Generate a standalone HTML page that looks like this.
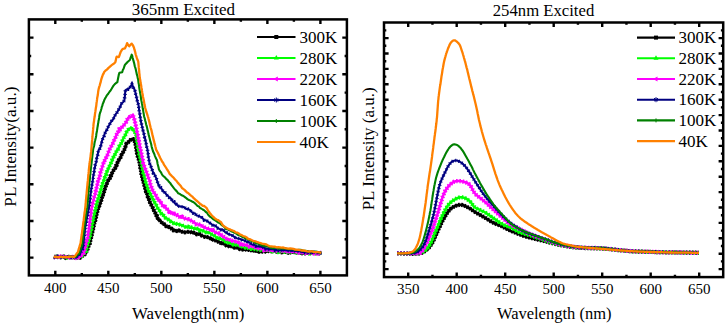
<!DOCTYPE html>
<html><head><meta charset="utf-8"><style>
html,body{margin:0;padding:0;background:#fff;width:725px;height:324px;overflow:hidden}
svg{display:block}
text{font-family:"Liberation Serif",serif;fill:#000}
</style></head><body>
<svg width="725" height="324" viewBox="0 0 725 324">
<rect x="28.90" y="19.40" width="318.00" height="256.00" fill="none" stroke="#000" stroke-width="2.50"/><path d="M55.30 275.40V270.80M55.30 19.40V24.00M108.32 275.40V270.80M108.32 19.40V24.00M161.34 275.40V270.80M161.34 19.40V24.00M214.36 275.40V270.80M214.36 19.40V24.00M267.38 275.40V270.80M267.38 19.40V24.00M320.40 275.40V270.80M320.40 19.40V24.00M81.81 275.40V273.10M81.81 19.40V21.70M134.83 275.40V273.10M134.83 19.40V21.70M187.85 275.40V273.10M187.85 19.40V21.70M240.87 275.40V273.10M240.87 19.40V21.70M293.89 275.40V273.10M293.89 19.40V21.70M28.90 37.60H33.50M346.90 37.60H342.30M28.90 74.27H33.50M346.90 74.27H342.30M28.90 110.94H33.50M346.90 110.94H342.30M28.90 147.61H33.50M346.90 147.61H342.30M28.90 184.28H33.50M346.90 184.28H342.30M28.90 220.95H33.50M346.90 220.95H342.30M28.90 257.62H33.50M346.90 257.62H342.30M28.90 55.94H31.20M346.90 55.94H344.60M28.90 92.61H31.20M346.90 92.61H344.60M28.90 129.28H31.20M346.90 129.28H344.60M28.90 165.94H31.20M346.90 165.94H344.60M28.90 202.62H31.20M346.90 202.62H344.60M28.90 239.28H31.20M346.90 239.28H344.60" stroke="#000" stroke-width="2.40" fill="none"/>
<text x="55.30" y="292.6" text-anchor="middle" font-size="15" font-family="Liberation Serif, serif">400</text>
<text x="108.32" y="292.6" text-anchor="middle" font-size="15" font-family="Liberation Serif, serif">450</text>
<text x="161.34" y="292.6" text-anchor="middle" font-size="15" font-family="Liberation Serif, serif">500</text>
<text x="214.36" y="292.6" text-anchor="middle" font-size="15" font-family="Liberation Serif, serif">550</text>
<text x="267.38" y="292.6" text-anchor="middle" font-size="15" font-family="Liberation Serif, serif">600</text>
<text x="320.40" y="292.6" text-anchor="middle" font-size="15" font-family="Liberation Serif, serif">650</text>
<text x="188.3" y="318.6" text-anchor="middle" font-size="16.8" font-family="Liberation Serif, serif">Wavelength(nm)</text>
<text x="183.4" y="15.2" text-anchor="middle" font-size="17" font-family="Liberation Serif, serif">365nm Excited</text>
<text transform="translate(15.8,146.6) rotate(-90)" text-anchor="middle" font-size="17.2" font-family="Liberation Serif, serif">PL Intensity(a.u.)</text>
<path d="M54.0 256.6 L55.6 257.1 L57.2 256.9 L58.9 257.2 L60.5 257.3 L62.1 256.5 L63.8 256.5 L65.4 257.7 L67.0 256.9 L68.6 256.9 L70.2 258.0 L71.9 257.3 L73.5 257.8 L75.1 257.4 L76.8 257.6 L78.4 257.0 L80.0 257.7 L81.5 256.9 L83.0 255.3 L84.5 254.5 L86.0 253.2 L86.6 250.7 L87.3 250.0 L87.9 248.1 L88.5 246.1 L89.2 244.0 L89.8 243.5 L90.2 241.3 L90.5 240.1 L90.9 238.7 L91.3 236.8 L91.7 235.5 L92.0 233.1 L92.4 232.0 L92.8 229.9 L93.2 228.9 L93.6 227.2 L94.0 224.4 L94.4 222.8 L94.8 221.3 L95.2 220.7 L95.7 218.2 L96.1 216.8 L96.5 214.7 L96.9 213.3 L97.3 211.5 L97.7 209.8 L98.2 208.6 L98.7 207.1 L99.3 206.0 L99.8 204.2 L100.3 203.0 L100.8 201.4 L101.4 200.0 L101.9 198.1 L102.4 195.8 L102.9 195.2 L103.5 193.8 L104.0 192.1 L104.5 190.1 L105.0 188.7 L105.6 186.4 L106.1 185.7 L106.8 183.9 L107.5 182.0 L108.3 180.3 L109.0 179.9 L109.7 178.7 L110.4 176.0 L111.2 175.5 L111.9 173.5 L112.6 171.7 L113.4 170.5 L114.2 169.7 L115.1 168.4 L115.9 165.8 L116.7 165.2 L117.5 162.7 L118.2 162.0 L119.0 159.7 L119.8 158.8 L120.6 157.3 L121.4 155.0 L122.2 154.1 L123.5 151.3 L124.7 149.1 L125.2 148.3 L125.6 145.9 L126.0 144.6 L126.5 143.4 L128.1 142.4 L129.6 140.5 L131.4 139.2 L133.3 139.1 L134.2 140.2 L135.2 142.9 L135.5 144.4 L135.7 145.3 L136.0 147.0 L136.2 148.7 L136.5 150.4 L136.7 151.9 L137.0 153.5 L137.5 155.3 L138.0 157.5 L138.5 158.6 L139.0 160.2 L139.5 162.3 L139.8 163.2 L140.0 164.9 L140.2 167.5 L140.5 168.4 L140.8 170.1 L141.0 170.9 L141.2 173.1 L141.5 174.9 L142.0 175.8 L142.4 178.3 L142.9 180.1 L143.3 180.9 L143.8 183.4 L144.2 184.9 L144.7 186.9 L145.1 188.1 L145.6 190.3 L146.1 191.9 L146.7 192.5 L147.2 194.1 L147.7 196.6 L148.2 198.6 L148.8 199.2 L149.3 201.0 L150.1 202.8 L150.8 203.9 L151.6 205.6 L152.4 207.0 L153.1 208.7 L153.9 210.5 L154.7 211.7 L155.4 213.3 L156.2 215.4 L157.0 215.9 L157.7 218.2 L158.5 219.9 L159.7 220.4 L161.0 221.4 L162.2 223.3 L163.4 223.6 L164.7 224.6 L165.9 226.0 L167.4 227.1 L168.9 227.0 L170.3 228.1 L171.8 228.8 L173.3 230.3 L175.2 230.1 L177.0 231.1 L178.9 230.5 L180.7 231.1 L182.6 231.9 L184.5 232.4 L186.3 232.0 L188.2 231.8 L190.0 231.8 L191.9 232.5 L193.5 232.5 L195.1 233.7 L196.8 234.2 L198.4 233.7 L200.0 234.2 L201.7 235.6 L203.3 236.0 L205.0 236.9 L206.7 237.0 L208.3 237.3 L210.0 238.2 L211.8 239.7 L213.7 239.7 L215.6 240.5 L217.4 241.4 L218.9 242.0 L220.4 242.6 L221.8 243.9 L223.3 243.5 L224.8 243.9 L226.5 245.6 L228.1 246.0 L229.8 246.5 L231.4 246.2 L233.0 247.3 L234.7 247.7 L236.4 247.2 L238.1 248.4 L239.9 249.1 L241.6 249.3 L243.3 249.6 L245.1 249.5 L246.9 249.8 L248.7 249.9 L250.5 249.9 L252.3 250.9 L254.1 250.7 L255.9 251.6 L257.6 250.5 L259.3 251.7 L261.0 251.4 L262.7 251.7 L264.5 251.6 L266.2 251.6 L267.9 251.2 L269.6 250.3 L271.3 251.3 L273.0 250.7 L274.7 251.0 L276.4 251.6 L278.1 251.5 L279.9 251.5 L281.6 252.4 L283.3 252.0 L285.0 251.8 L286.7 251.7 L288.4 252.7 L290.1 252.2 L291.8 252.7 L293.5 252.2 L295.2 252.0 L296.8 252.6 L298.5 253.1 L300.2 252.2 L301.9 253.2 L303.6 253.4 L305.3 253.4 L307.0 253.5 L308.8 252.4 L310.6 253.3 L312.4 253.7 L314.1 252.6 L315.9 253.0 L317.7 253.1 L319.5 253.5 L321.3 253.4" fill="none" stroke="#000000" stroke-width="2.80" stroke-linejoin="round"/><path d="M54.0 256.6 L55.6 257.1 L57.2 256.9 L58.9 257.2 L60.5 257.3 L62.1 256.5 L63.8 256.5 L65.4 257.7 L67.0 256.9 L68.6 256.9 L70.2 258.0 L71.9 257.3 L73.5 257.8 L75.1 257.4 L76.8 257.6 L78.4 257.0 L80.0 257.7 L81.5 256.9 L83.0 255.3 L84.5 254.5 L86.0 253.2 L86.6 250.7 L87.3 250.0 L87.9 248.1 L88.5 246.1 L89.2 244.0 L89.8 243.5 L90.2 241.3 L90.5 240.1 L90.9 238.7 L91.3 236.8 L91.7 235.5 L92.0 233.1 L92.4 232.0 L92.8 229.9 L93.2 228.9 L93.6 227.2 L94.0 224.4 L94.4 222.8 L94.8 221.3 L95.2 220.7 L95.7 218.2 L96.1 216.8 L96.5 214.7 L96.9 213.3 L97.3 211.5 L97.7 209.8 L98.2 208.6 L98.7 207.1 L99.3 206.0 L99.8 204.2 L100.3 203.0 L100.8 201.4 L101.4 200.0 L101.9 198.1 L102.4 195.8 L102.9 195.2 L103.5 193.8 L104.0 192.1 L104.5 190.1 L105.0 188.7 L105.6 186.4 L106.1 185.7 L106.8 183.9 L107.5 182.0 L108.3 180.3 L109.0 179.9 L109.7 178.7 L110.4 176.0 L111.2 175.5 L111.9 173.5 L112.6 171.7 L113.4 170.5 L114.2 169.7 L115.1 168.4 L115.9 165.8 L116.7 165.2 L117.5 162.7 L118.2 162.0 L119.0 159.7 L119.8 158.8 L120.6 157.3 L121.4 155.0 L122.2 154.1 L123.5 151.3 L124.7 149.1 L125.2 148.3 L125.6 145.9 L126.0 144.6 L126.5 143.4 L128.1 142.4 L129.6 140.5 L131.4 139.2 L133.3 139.1 L134.2 140.2 L135.2 142.9 L135.5 144.4 L135.7 145.3 L136.0 147.0 L136.2 148.7 L136.5 150.4 L136.7 151.9 L137.0 153.5 L137.5 155.3 L138.0 157.5 L138.5 158.6 L139.0 160.2 L139.5 162.3 L139.8 163.2 L140.0 164.9 L140.2 167.5 L140.5 168.4 L140.8 170.1 L141.0 170.9 L141.2 173.1 L141.5 174.9 L142.0 175.8 L142.4 178.3 L142.9 180.1 L143.3 180.9 L143.8 183.4 L144.2 184.9 L144.7 186.9 L145.1 188.1 L145.6 190.3 L146.1 191.9 L146.7 192.5 L147.2 194.1 L147.7 196.6 L148.2 198.6 L148.8 199.2 L149.3 201.0 L150.1 202.8 L150.8 203.9 L151.6 205.6 L152.4 207.0 L153.1 208.7 L153.9 210.5 L154.7 211.7 L155.4 213.3 L156.2 215.4 L157.0 215.9 L157.7 218.2 L158.5 219.9 L159.7 220.4 L161.0 221.4 L162.2 223.3 L163.4 223.6 L164.7 224.6 L165.9 226.0 L167.4 227.1 L168.9 227.0 L170.3 228.1 L171.8 228.8 L173.3 230.3 L175.2 230.1 L177.0 231.1 L178.9 230.5 L180.7 231.1 L182.6 231.9 L184.5 232.4 L186.3 232.0 L188.2 231.8 L190.0 231.8 L191.9 232.5 L193.5 232.5 L195.1 233.7 L196.8 234.2 L198.4 233.7 L200.0 234.2 L201.7 235.6 L203.3 236.0 L205.0 236.9 L206.7 237.0 L208.3 237.3 L210.0 238.2 L211.8 239.7 L213.7 239.7 L215.6 240.5 L217.4 241.4 L218.9 242.0 L220.4 242.6 L221.8 243.9 L223.3 243.5 L224.8 243.9 L226.5 245.6 L228.1 246.0 L229.8 246.5 L231.4 246.2 L233.0 247.3 L234.7 247.7 L236.4 247.2 L238.1 248.4 L239.9 249.1 L241.6 249.3 L243.3 249.6 L245.1 249.5 L246.9 249.8 L248.7 249.9 L250.5 249.9 L252.3 250.9 L254.1 250.7 L255.9 251.6 L257.6 250.5 L259.3 251.7 L261.0 251.4 L262.7 251.7 L264.5 251.6 L266.2 251.6 L267.9 251.2 L269.6 250.3 L271.3 251.3 L273.0 250.7 L274.7 251.0 L276.4 251.6 L278.1 251.5 L279.9 251.5 L281.6 252.4 L283.3 252.0 L285.0 251.8 L286.7 251.7 L288.4 252.7 L290.1 252.2 L291.8 252.7 L293.5 252.2 L295.2 252.0 L296.8 252.6 L298.5 253.1 L300.2 252.2 L301.9 253.2 L303.6 253.4 L305.3 253.4 L307.0 253.5 L308.8 252.4 L310.6 253.3 L312.4 253.7 L314.1 252.6 L315.9 253.0 L317.7 253.1 L319.5 253.5 L321.3 253.4" fill="none" stroke="#000000" stroke-width="4.20" stroke-dasharray="1.6 1.4"/>
<path d="M54.0 257.0 L55.6 257.4 L57.2 256.4 L58.8 256.5 L60.4 256.6 L62.0 256.6 L63.6 256.6 L65.2 257.9 L66.8 257.8 L68.4 256.7 L70.0 257.3 L71.6 257.1 L73.2 257.1 L74.8 257.2 L76.4 257.7 L78.0 257.6 L80.0 256.8 L82.0 256.1 L83.0 254.9 L84.0 253.2 L85.0 252.5 L86.0 251.3 L86.4 249.2 L86.9 247.1 L87.3 245.5 L87.8 244.2 L88.2 242.8 L88.7 241.4 L89.1 239.2 L89.6 238.1 L90.0 236.2 L90.3 234.3 L90.6 232.5 L91.0 231.1 L91.3 229.7 L91.6 227.7 L91.9 226.5 L92.2 224.5 L92.5 222.6 L92.9 221.3 L93.2 219.9 L93.5 217.4 L93.9 216.1 L94.2 214.4 L94.6 213.3 L95.0 211.6 L95.4 209.1 L95.8 208.1 L96.1 206.2 L96.5 203.7 L97.0 202.3 L97.5 200.1 L98.0 199.5 L98.5 197.6 L99.0 196.2 L99.5 194.4 L100.0 192.6 L100.5 191.0 L101.1 189.1 L101.6 186.8 L102.2 185.8 L102.7 183.4 L103.3 181.9 L103.9 181.1 L104.4 178.4 L105.0 176.8 L105.5 175.2 L106.1 174.6 L106.7 172.1 L107.4 170.4 L108.0 170.0 L108.6 167.5 L109.3 167.0 L109.9 165.2 L110.7 163.7 L111.5 162.0 L112.3 159.7 L113.0 158.5 L113.8 156.0 L114.5 155.5 L115.3 153.7 L116.0 152.5 L116.9 150.2 L117.8 149.6 L118.6 148.4 L119.5 145.7 L120.4 144.6 L121.2 143.3 L122.0 142.2 L122.7 139.8 L123.5 138.2 L124.2 136.7 L125.0 135.7 L125.8 134.3 L126.5 132.3 L127.8 130.4 L129.0 128.6 L132.1 127.9 L133.0 129.4 L133.9 130.3 L134.9 132.2 L135.8 134.3 L136.1 135.1 L136.3 137.2 L136.6 138.0 L136.8 140.3 L137.1 142.0 L137.3 143.5 L137.6 144.9 L137.8 146.5 L138.1 148.3 L138.3 150.3 L138.7 150.8 L139.1 152.3 L139.4 154.8 L139.8 156.6 L140.2 157.7 L140.6 159.1 L140.9 161.1 L141.3 162.0 L141.6 163.8 L142.0 165.5 L142.3 167.8 L142.6 169.2 L143.0 170.9 L143.3 173.3 L143.8 175.3 L144.2 176.0 L144.7 178.3 L145.1 179.5 L145.6 181.8 L146.0 183.1 L146.6 184.4 L147.2 186.1 L147.7 187.6 L148.3 190.0 L149.1 191.4 L149.9 192.7 L150.7 194.6 L151.5 196.1 L152.3 198.3 L153.1 199.0 L153.9 201.8 L154.7 202.5 L155.5 204.0 L156.3 205.2 L157.2 207.1 L158.0 208.5 L158.8 209.5 L159.6 210.8 L160.4 212.5 L161.6 213.9 L162.9 214.5 L164.1 216.2 L165.3 217.8 L166.6 218.3 L167.8 219.2 L169.3 220.0 L170.9 221.5 L172.4 222.2 L173.9 223.4 L175.5 224.0 L177.0 223.9 L178.6 224.3 L180.2 224.7 L181.8 225.0 L183.3 226.1 L184.9 226.7 L186.5 227.2 L188.1 226.7 L189.8 227.9 L191.6 227.5 L193.3 228.1 L195.0 228.9 L196.5 228.5 L198.1 228.9 L199.6 230.4 L201.2 230.1 L202.7 230.7 L204.5 231.7 L206.3 232.4 L208.2 232.2 L210.0 233.3 L211.6 234.3 L213.1 235.3 L214.6 235.9 L216.2 237.3 L217.7 238.5 L219.2 238.3 L220.8 239.1 L222.3 239.2 L223.8 240.0 L225.3 241.2 L226.8 241.0 L228.3 242.7 L229.8 243.4 L231.5 242.7 L233.2 244.4 L235.0 244.1 L236.7 245.1 L238.4 245.6 L240.1 245.4 L241.8 246.4 L243.6 246.9 L245.3 247.6 L247.0 247.4 L248.8 248.4 L250.6 249.0 L252.3 249.0 L254.1 249.1 L255.9 248.9 L257.6 249.5 L259.3 249.5 L261.0 250.2 L262.7 250.3 L264.5 250.3 L266.2 249.9 L267.9 250.7 L269.6 250.8 L271.3 250.4 L273.0 251.5 L274.7 251.3 L276.4 250.6 L278.1 251.9 L279.9 250.9 L281.6 251.3 L283.3 252.0 L285.0 251.9 L286.7 252.0 L288.4 252.2 L290.1 252.0 L291.8 251.8 L293.5 251.7 L295.2 251.7 L296.8 252.6 L298.5 252.8 L300.2 252.6 L301.9 252.9 L303.6 252.4 L305.3 252.4 L307.0 252.6 L308.8 253.4 L310.6 252.3 L312.4 253.0 L314.1 252.7 L315.9 253.5 L317.7 253.0 L319.5 253.0 L321.3 253.2" fill="none" stroke="#00ff00" stroke-width="2.50" stroke-linejoin="round"/><path d="M54.0 257.0 L55.6 257.4 L57.2 256.4 L58.8 256.5 L60.4 256.6 L62.0 256.6 L63.6 256.6 L65.2 257.9 L66.8 257.8 L68.4 256.7 L70.0 257.3 L71.6 257.1 L73.2 257.1 L74.8 257.2 L76.4 257.7 L78.0 257.6 L80.0 256.8 L82.0 256.1 L83.0 254.9 L84.0 253.2 L85.0 252.5 L86.0 251.3 L86.4 249.2 L86.9 247.1 L87.3 245.5 L87.8 244.2 L88.2 242.8 L88.7 241.4 L89.1 239.2 L89.6 238.1 L90.0 236.2 L90.3 234.3 L90.6 232.5 L91.0 231.1 L91.3 229.7 L91.6 227.7 L91.9 226.5 L92.2 224.5 L92.5 222.6 L92.9 221.3 L93.2 219.9 L93.5 217.4 L93.9 216.1 L94.2 214.4 L94.6 213.3 L95.0 211.6 L95.4 209.1 L95.8 208.1 L96.1 206.2 L96.5 203.7 L97.0 202.3 L97.5 200.1 L98.0 199.5 L98.5 197.6 L99.0 196.2 L99.5 194.4 L100.0 192.6 L100.5 191.0 L101.1 189.1 L101.6 186.8 L102.2 185.8 L102.7 183.4 L103.3 181.9 L103.9 181.1 L104.4 178.4 L105.0 176.8 L105.5 175.2 L106.1 174.6 L106.7 172.1 L107.4 170.4 L108.0 170.0 L108.6 167.5 L109.3 167.0 L109.9 165.2 L110.7 163.7 L111.5 162.0 L112.3 159.7 L113.0 158.5 L113.8 156.0 L114.5 155.5 L115.3 153.7 L116.0 152.5 L116.9 150.2 L117.8 149.6 L118.6 148.4 L119.5 145.7 L120.4 144.6 L121.2 143.3 L122.0 142.2 L122.7 139.8 L123.5 138.2 L124.2 136.7 L125.0 135.7 L125.8 134.3 L126.5 132.3 L127.8 130.4 L129.0 128.6 L132.1 127.9 L133.0 129.4 L133.9 130.3 L134.9 132.2 L135.8 134.3 L136.1 135.1 L136.3 137.2 L136.6 138.0 L136.8 140.3 L137.1 142.0 L137.3 143.5 L137.6 144.9 L137.8 146.5 L138.1 148.3 L138.3 150.3 L138.7 150.8 L139.1 152.3 L139.4 154.8 L139.8 156.6 L140.2 157.7 L140.6 159.1 L140.9 161.1 L141.3 162.0 L141.6 163.8 L142.0 165.5 L142.3 167.8 L142.6 169.2 L143.0 170.9 L143.3 173.3 L143.8 175.3 L144.2 176.0 L144.7 178.3 L145.1 179.5 L145.6 181.8 L146.0 183.1 L146.6 184.4 L147.2 186.1 L147.7 187.6 L148.3 190.0 L149.1 191.4 L149.9 192.7 L150.7 194.6 L151.5 196.1 L152.3 198.3 L153.1 199.0 L153.9 201.8 L154.7 202.5 L155.5 204.0 L156.3 205.2 L157.2 207.1 L158.0 208.5 L158.8 209.5 L159.6 210.8 L160.4 212.5 L161.6 213.9 L162.9 214.5 L164.1 216.2 L165.3 217.8 L166.6 218.3 L167.8 219.2 L169.3 220.0 L170.9 221.5 L172.4 222.2 L173.9 223.4 L175.5 224.0 L177.0 223.9 L178.6 224.3 L180.2 224.7 L181.8 225.0 L183.3 226.1 L184.9 226.7 L186.5 227.2 L188.1 226.7 L189.8 227.9 L191.6 227.5 L193.3 228.1 L195.0 228.9 L196.5 228.5 L198.1 228.9 L199.6 230.4 L201.2 230.1 L202.7 230.7 L204.5 231.7 L206.3 232.4 L208.2 232.2 L210.0 233.3 L211.6 234.3 L213.1 235.3 L214.6 235.9 L216.2 237.3 L217.7 238.5 L219.2 238.3 L220.8 239.1 L222.3 239.2 L223.8 240.0 L225.3 241.2 L226.8 241.0 L228.3 242.7 L229.8 243.4 L231.5 242.7 L233.2 244.4 L235.0 244.1 L236.7 245.1 L238.4 245.6 L240.1 245.4 L241.8 246.4 L243.6 246.9 L245.3 247.6 L247.0 247.4 L248.8 248.4 L250.6 249.0 L252.3 249.0 L254.1 249.1 L255.9 248.9 L257.6 249.5 L259.3 249.5 L261.0 250.2 L262.7 250.3 L264.5 250.3 L266.2 249.9 L267.9 250.7 L269.6 250.8 L271.3 250.4 L273.0 251.5 L274.7 251.3 L276.4 250.6 L278.1 251.9 L279.9 250.9 L281.6 251.3 L283.3 252.0 L285.0 251.9 L286.7 252.0 L288.4 252.2 L290.1 252.0 L291.8 251.8 L293.5 251.7 L295.2 251.7 L296.8 252.6 L298.5 252.8 L300.2 252.6 L301.9 252.9 L303.6 252.4 L305.3 252.4 L307.0 252.6 L308.8 253.4 L310.6 252.3 L312.4 253.0 L314.1 252.7 L315.9 253.5 L317.7 253.0 L319.5 253.0 L321.3 253.2" fill="none" stroke="#00ff00" stroke-width="4.20" stroke-dasharray="1.4 1.8"/>
<path d="M54.0 257.1 L55.7 257.5 L57.4 256.8 L59.1 257.7 L60.8 256.5 L62.5 256.8 L64.2 256.6 L65.8 256.6 L67.5 257.8 L69.2 257.7 L70.9 256.9 L72.6 256.9 L74.3 257.3 L76.0 257.9 L78.0 257.5 L80.0 256.9 L81.2 255.5 L82.4 253.6 L83.6 252.8 L84.0 250.8 L84.5 249.6 L84.9 248.0 L85.3 245.7 L85.8 244.1 L86.2 243.3 L86.6 240.3 L87.0 239.9 L87.5 238.3 L87.9 236.7 L88.1 234.2 L88.3 232.8 L88.5 231.3 L88.8 229.7 L89.0 228.6 L89.2 226.5 L89.4 224.3 L89.6 223.6 L89.8 221.3 L90.0 219.9 L90.2 218.5 L90.5 215.7 L90.7 215.3 L90.9 213.5 L91.1 211.6 L91.3 210.0 L91.7 208.3 L92.0 206.3 L92.4 205.2 L92.7 202.8 L93.1 201.9 L93.5 200.5 L93.9 198.5 L94.3 197.0 L94.7 196.0 L95.2 194.2 L95.6 191.4 L96.0 190.8 L96.4 188.9 L96.8 186.3 L97.2 185.1 L97.6 183.3 L98.0 181.4 L98.4 180.5 L98.9 179.5 L99.3 176.9 L99.7 176.1 L100.1 174.2 L100.5 171.6 L101.0 171.1 L101.6 169.0 L102.1 167.8 L102.6 165.7 L103.2 164.1 L103.7 161.7 L104.4 161.0 L105.2 159.7 L105.9 158.1 L106.7 156.0 L107.4 155.0 L108.1 153.1 L108.9 151.0 L109.6 149.4 L110.4 148.0 L111.1 146.7 L111.8 144.9 L112.6 143.8 L113.3 142.4 L114.1 140.4 L114.8 138.5 L115.5 137.4 L116.2 135.4 L116.9 134.2 L117.7 133.2 L118.4 131.2 L119.1 129.4 L120.3 129.3 L121.6 127.8 L122.8 126.0 L124.1 124.8 L125.2 123.4 L126.2 121.9 L127.2 119.7 L128.3 117.7 L129.9 116.9 L131.4 116.8 L133.0 114.6 L133.4 116.8 L133.9 118.0 L134.4 119.6 L134.8 121.2 L135.2 123.2 L135.5 124.4 L135.8 125.8 L136.2 127.5 L136.6 129.2 L136.9 131.4 L137.2 132.3 L137.6 133.8 L137.9 136.2 L138.2 137.7 L138.5 139.9 L138.8 140.5 L139.2 142.7 L139.5 144.3 L139.8 145.4 L140.1 148.5 L140.4 149.0 L140.7 150.4 L141.1 152.6 L141.4 153.7 L141.8 156.1 L142.1 157.3 L142.4 158.5 L142.8 160.1 L143.1 162.8 L143.7 163.8 L144.3 166.3 L144.9 167.6 L145.5 170.1 L146.1 170.8 L146.7 172.5 L147.4 174.3 L148.0 176.9 L148.7 178.4 L149.3 179.8 L149.8 181.0 L150.2 183.6 L150.7 185.8 L151.1 186.8 L151.6 187.5 L152.0 189.2 L152.9 190.8 L153.9 192.4 L154.8 193.7 L155.8 195.2 L156.7 197.6 L157.8 199.4 L158.8 199.6 L159.9 202.1 L160.9 202.7 L162.0 204.5 L163.0 206.0 L164.1 207.4 L165.3 207.0 L166.6 208.5 L167.8 210.1 L169.0 211.7 L170.3 211.4 L171.5 212.8 L173.0 214.3 L174.6 213.8 L176.1 214.8 L177.6 215.4 L179.2 216.6 L180.7 217.6 L182.2 216.8 L183.8 218.2 L185.3 218.6 L186.9 219.2 L188.4 219.2 L190.0 220.3 L191.7 220.6 L193.3 221.9 L195.0 222.8 L196.5 224.3 L198.1 224.4 L199.6 224.7 L201.2 225.2 L202.7 226.7 L204.2 227.2 L205.6 228.0 L207.1 228.2 L208.5 229.1 L210.0 229.2 L211.6 230.8 L213.1 230.3 L214.6 231.6 L216.2 232.7 L217.7 233.5 L219.2 233.5 L220.8 234.7 L222.3 236.5 L223.8 237.0 L225.3 238.1 L226.8 238.8 L228.3 238.9 L229.8 240.3 L231.5 240.7 L233.2 240.7 L235.0 241.4 L236.7 241.5 L238.4 242.6 L240.1 244.1 L241.8 243.4 L243.6 244.8 L245.3 244.7 L247.0 245.2 L248.8 246.5 L250.6 246.2 L252.3 246.3 L254.1 246.9 L255.9 248.0 L257.8 248.3 L259.8 247.8 L261.7 248.6 L263.6 250.1 L265.5 249.2 L267.5 249.9 L269.4 249.9 L271.3 250.7 L273.0 250.6 L274.7 251.0 L276.4 250.7 L278.1 250.3 L279.9 250.3 L281.6 250.3 L283.3 251.6 L285.0 250.6 L286.7 250.5 L288.4 252.1 L290.1 251.0 L291.8 252.2 L293.5 251.0 L295.2 251.7 L296.8 251.5 L298.5 252.5 L300.2 252.3 L301.9 252.4 L303.6 252.7 L305.3 253.0 L307.0 252.3 L308.8 252.8 L310.6 252.6 L312.4 252.1 L314.1 253.4 L315.9 253.1 L317.7 253.5 L319.5 252.6 L321.3 253.3" fill="none" stroke="#ff00ff" stroke-width="2.50" stroke-linejoin="round"/><path d="M54.0 257.1 L55.7 257.5 L57.4 256.8 L59.1 257.7 L60.8 256.5 L62.5 256.8 L64.2 256.6 L65.8 256.6 L67.5 257.8 L69.2 257.7 L70.9 256.9 L72.6 256.9 L74.3 257.3 L76.0 257.9 L78.0 257.5 L80.0 256.9 L81.2 255.5 L82.4 253.6 L83.6 252.8 L84.0 250.8 L84.5 249.6 L84.9 248.0 L85.3 245.7 L85.8 244.1 L86.2 243.3 L86.6 240.3 L87.0 239.9 L87.5 238.3 L87.9 236.7 L88.1 234.2 L88.3 232.8 L88.5 231.3 L88.8 229.7 L89.0 228.6 L89.2 226.5 L89.4 224.3 L89.6 223.6 L89.8 221.3 L90.0 219.9 L90.2 218.5 L90.5 215.7 L90.7 215.3 L90.9 213.5 L91.1 211.6 L91.3 210.0 L91.7 208.3 L92.0 206.3 L92.4 205.2 L92.7 202.8 L93.1 201.9 L93.5 200.5 L93.9 198.5 L94.3 197.0 L94.7 196.0 L95.2 194.2 L95.6 191.4 L96.0 190.8 L96.4 188.9 L96.8 186.3 L97.2 185.1 L97.6 183.3 L98.0 181.4 L98.4 180.5 L98.9 179.5 L99.3 176.9 L99.7 176.1 L100.1 174.2 L100.5 171.6 L101.0 171.1 L101.6 169.0 L102.1 167.8 L102.6 165.7 L103.2 164.1 L103.7 161.7 L104.4 161.0 L105.2 159.7 L105.9 158.1 L106.7 156.0 L107.4 155.0 L108.1 153.1 L108.9 151.0 L109.6 149.4 L110.4 148.0 L111.1 146.7 L111.8 144.9 L112.6 143.8 L113.3 142.4 L114.1 140.4 L114.8 138.5 L115.5 137.4 L116.2 135.4 L116.9 134.2 L117.7 133.2 L118.4 131.2 L119.1 129.4 L120.3 129.3 L121.6 127.8 L122.8 126.0 L124.1 124.8 L125.2 123.4 L126.2 121.9 L127.2 119.7 L128.3 117.7 L129.9 116.9 L131.4 116.8 L133.0 114.6 L133.4 116.8 L133.9 118.0 L134.4 119.6 L134.8 121.2 L135.2 123.2 L135.5 124.4 L135.8 125.8 L136.2 127.5 L136.6 129.2 L136.9 131.4 L137.2 132.3 L137.6 133.8 L137.9 136.2 L138.2 137.7 L138.5 139.9 L138.8 140.5 L139.2 142.7 L139.5 144.3 L139.8 145.4 L140.1 148.5 L140.4 149.0 L140.7 150.4 L141.1 152.6 L141.4 153.7 L141.8 156.1 L142.1 157.3 L142.4 158.5 L142.8 160.1 L143.1 162.8 L143.7 163.8 L144.3 166.3 L144.9 167.6 L145.5 170.1 L146.1 170.8 L146.7 172.5 L147.4 174.3 L148.0 176.9 L148.7 178.4 L149.3 179.8 L149.8 181.0 L150.2 183.6 L150.7 185.8 L151.1 186.8 L151.6 187.5 L152.0 189.2 L152.9 190.8 L153.9 192.4 L154.8 193.7 L155.8 195.2 L156.7 197.6 L157.8 199.4 L158.8 199.6 L159.9 202.1 L160.9 202.7 L162.0 204.5 L163.0 206.0 L164.1 207.4 L165.3 207.0 L166.6 208.5 L167.8 210.1 L169.0 211.7 L170.3 211.4 L171.5 212.8 L173.0 214.3 L174.6 213.8 L176.1 214.8 L177.6 215.4 L179.2 216.6 L180.7 217.6 L182.2 216.8 L183.8 218.2 L185.3 218.6 L186.9 219.2 L188.4 219.2 L190.0 220.3 L191.7 220.6 L193.3 221.9 L195.0 222.8 L196.5 224.3 L198.1 224.4 L199.6 224.7 L201.2 225.2 L202.7 226.7 L204.2 227.2 L205.6 228.0 L207.1 228.2 L208.5 229.1 L210.0 229.2 L211.6 230.8 L213.1 230.3 L214.6 231.6 L216.2 232.7 L217.7 233.5 L219.2 233.5 L220.8 234.7 L222.3 236.5 L223.8 237.0 L225.3 238.1 L226.8 238.8 L228.3 238.9 L229.8 240.3 L231.5 240.7 L233.2 240.7 L235.0 241.4 L236.7 241.5 L238.4 242.6 L240.1 244.1 L241.8 243.4 L243.6 244.8 L245.3 244.7 L247.0 245.2 L248.8 246.5 L250.6 246.2 L252.3 246.3 L254.1 246.9 L255.9 248.0 L257.8 248.3 L259.8 247.8 L261.7 248.6 L263.6 250.1 L265.5 249.2 L267.5 249.9 L269.4 249.9 L271.3 250.7 L273.0 250.6 L274.7 251.0 L276.4 250.7 L278.1 250.3 L279.9 250.3 L281.6 250.3 L283.3 251.6 L285.0 250.6 L286.7 250.5 L288.4 252.1 L290.1 251.0 L291.8 252.2 L293.5 251.0 L295.2 251.7 L296.8 251.5 L298.5 252.5 L300.2 252.3 L301.9 252.4 L303.6 252.7 L305.3 253.0 L307.0 252.3 L308.8 252.8 L310.6 252.6 L312.4 252.1 L314.1 253.4 L315.9 253.1 L317.7 253.5 L319.5 252.6 L321.3 253.3" fill="none" stroke="#ff00ff" stroke-width="4.40" stroke-dasharray="1.4 1.8"/>
<path d="M54.0 256.9 L55.7 257.3 L57.4 256.4 L59.1 256.8 L60.8 257.0 L62.5 256.4 L64.2 257.1 L65.8 257.3 L67.5 256.9 L69.2 257.2 L70.9 257.1 L72.6 256.6 L74.3 256.8 L76.0 257.7 L78.0 255.5 L80.0 254.4 L80.6 252.4 L81.2 251.1 L81.8 249.5 L82.4 249.1 L83.0 247.3 L83.2 245.9 L83.4 244.5 L83.6 242.3 L83.7 241.1 L83.9 239.0 L84.1 237.2 L84.3 236.3 L84.5 234.6 L84.7 233.1 L84.8 230.8 L85.0 229.6 L85.2 227.5 L85.4 226.7 L85.7 224.9 L86.1 222.3 L86.4 221.5 L86.7 218.8 L87.0 217.0 L87.4 216.2 L87.7 213.9 L88.0 212.5 L88.3 211.0 L88.7 208.4 L89.0 207.7 L89.2 205.4 L89.4 203.9 L89.7 202.1 L89.9 200.9 L90.1 199.2 L90.3 196.9 L90.5 194.9 L90.7 193.5 L90.9 192.0 L91.2 189.8 L91.4 188.2 L91.6 187.4 L91.9 185.6 L92.1 184.3 L92.4 182.6 L92.7 180.8 L93.0 178.4 L93.2 176.4 L93.5 175.0 L93.8 173.5 L94.1 171.9 L94.3 170.2 L94.6 168.3 L95.0 167.3 L95.3 164.8 L95.7 163.4 L96.1 162.3 L96.5 160.5 L96.8 158.1 L97.2 156.4 L97.6 155.5 L98.0 152.7 L98.3 151.2 L98.7 150.0 L99.7 148.7 L100.6 146.7 L101.0 144.9 L101.4 143.3 L101.7 142.4 L102.1 140.3 L102.5 139.3 L103.2 137.5 L104.0 136.3 L104.7 133.5 L105.5 132.2 L106.2 130.5 L107.0 129.6 L107.8 127.9 L108.5 125.9 L109.3 125.1 L110.2 123.0 L111.1 121.8 L112.0 120.3 L113.0 119.6 L113.9 117.6 L114.8 115.9 L115.7 114.2 L116.6 113.1 L117.5 111.7 L118.3 110.1 L119.2 108.8 L120.1 107.1 L121.0 104.6 L122.1 102.8 L123.3 102.0 L124.4 100.4 L124.6 98.2 L124.8 96.8 L125.0 94.6 L125.2 92.4 L125.4 90.4 L126.8 89.3 L128.1 89.3 L129.4 88.1 L130.6 86.5 L131.9 84.4 L132.8 86.2 L133.7 88.1 L134.6 89.5 L135.0 90.9 L135.4 92.3 L135.7 94.1 L136.1 95.3 L136.5 97.0 L137.0 99.6 L137.5 101.9 L138.0 103.2 L138.5 104.9 L138.7 106.4 L138.9 108.1 L139.1 110.2 L139.4 111.3 L139.6 113.6 L139.8 114.0 L140.0 115.8 L140.3 117.7 L140.6 119.1 L140.9 121.3 L141.3 122.9 L141.6 124.6 L141.9 125.8 L142.2 126.5 L142.6 128.9 L143.0 130.4 L143.4 131.9 L143.8 133.2 L144.2 135.4 L144.6 137.3 L145.0 137.7 L145.3 140.1 L145.7 141.3 L146.0 143.1 L146.4 145.2 L146.7 146.9 L147.1 148.0 L147.4 149.0 L147.7 151.8 L147.9 152.5 L148.2 154.5 L148.4 156.9 L148.7 158.0 L148.9 159.7 L149.4 162.2 L149.8 163.7 L150.3 164.4 L150.8 166.0 L151.2 167.4 L151.7 168.8 L152.5 170.6 L153.3 173.3 L154.2 173.8 L155.0 175.6 L155.8 177.3 L156.4 178.7 L157.1 180.8 L157.7 182.7 L158.3 184.4 L159.0 185.6 L159.6 187.4 L160.8 187.7 L162.1 189.5 L163.3 191.8 L164.6 192.0 L165.8 193.7 L167.0 195.1 L168.1 196.0 L169.2 197.5 L170.4 198.0 L171.6 199.5 L172.9 201.7 L174.1 201.8 L175.4 204.1 L176.6 204.3 L178.1 206.1 L179.7 206.2 L181.2 206.8 L182.8 206.7 L184.3 207.2 L186.2 209.0 L188.1 209.1 L190.0 210.0 L191.7 212.0 L193.3 213.3 L195.0 213.3 L196.5 215.5 L198.1 215.8 L199.6 216.5 L201.2 217.0 L202.7 218.3 L204.2 220.2 L205.6 220.2 L207.1 221.0 L208.5 222.1 L210.0 223.1 L211.6 224.2 L213.1 225.7 L214.6 225.3 L216.2 226.3 L217.7 228.1 L219.2 228.9 L220.8 229.7 L222.3 229.4 L223.8 230.6 L225.3 232.4 L226.8 232.8 L228.3 234.1 L229.8 234.5 L231.5 234.9 L233.2 236.1 L235.0 237.4 L236.7 238.2 L238.4 238.6 L240.1 239.0 L241.8 239.8 L243.6 240.2 L245.3 240.9 L247.0 242.0 L248.5 241.7 L250.0 243.0 L251.4 244.1 L252.9 244.7 L254.4 244.4 L255.9 246.1 L257.4 246.4 L259.0 246.0 L260.5 246.6 L262.1 246.9 L263.6 247.2 L265.5 248.9 L267.5 248.5 L269.4 249.5 L271.3 248.9 L273.0 248.8 L274.7 250.1 L276.4 250.1 L278.1 250.5 L279.9 250.2 L281.6 250.0 L283.3 250.5 L285.0 249.6 L286.7 250.4 L288.4 250.4 L290.1 250.1 L291.8 250.9 L293.5 250.6 L295.2 251.0 L296.8 251.0 L298.5 251.1 L300.2 251.2 L301.9 251.7 L303.6 252.4 L305.3 252.5 L307.0 252.5 L308.8 252.6 L310.6 252.0 L312.4 253.0 L314.1 252.2 L315.9 252.1 L317.7 252.8 L319.5 253.2 L321.3 252.8" fill="none" stroke="#000080" stroke-width="2.10" stroke-linejoin="round"/><path d="M54.0 256.9 L55.7 257.3 L57.4 256.4 L59.1 256.8 L60.8 257.0 L62.5 256.4 L64.2 257.1 L65.8 257.3 L67.5 256.9 L69.2 257.2 L70.9 257.1 L72.6 256.6 L74.3 256.8 L76.0 257.7 L78.0 255.5 L80.0 254.4 L80.6 252.4 L81.2 251.1 L81.8 249.5 L82.4 249.1 L83.0 247.3 L83.2 245.9 L83.4 244.5 L83.6 242.3 L83.7 241.1 L83.9 239.0 L84.1 237.2 L84.3 236.3 L84.5 234.6 L84.7 233.1 L84.8 230.8 L85.0 229.6 L85.2 227.5 L85.4 226.7 L85.7 224.9 L86.1 222.3 L86.4 221.5 L86.7 218.8 L87.0 217.0 L87.4 216.2 L87.7 213.9 L88.0 212.5 L88.3 211.0 L88.7 208.4 L89.0 207.7 L89.2 205.4 L89.4 203.9 L89.7 202.1 L89.9 200.9 L90.1 199.2 L90.3 196.9 L90.5 194.9 L90.7 193.5 L90.9 192.0 L91.2 189.8 L91.4 188.2 L91.6 187.4 L91.9 185.6 L92.1 184.3 L92.4 182.6 L92.7 180.8 L93.0 178.4 L93.2 176.4 L93.5 175.0 L93.8 173.5 L94.1 171.9 L94.3 170.2 L94.6 168.3 L95.0 167.3 L95.3 164.8 L95.7 163.4 L96.1 162.3 L96.5 160.5 L96.8 158.1 L97.2 156.4 L97.6 155.5 L98.0 152.7 L98.3 151.2 L98.7 150.0 L99.7 148.7 L100.6 146.7 L101.0 144.9 L101.4 143.3 L101.7 142.4 L102.1 140.3 L102.5 139.3 L103.2 137.5 L104.0 136.3 L104.7 133.5 L105.5 132.2 L106.2 130.5 L107.0 129.6 L107.8 127.9 L108.5 125.9 L109.3 125.1 L110.2 123.0 L111.1 121.8 L112.0 120.3 L113.0 119.6 L113.9 117.6 L114.8 115.9 L115.7 114.2 L116.6 113.1 L117.5 111.7 L118.3 110.1 L119.2 108.8 L120.1 107.1 L121.0 104.6 L122.1 102.8 L123.3 102.0 L124.4 100.4 L124.6 98.2 L124.8 96.8 L125.0 94.6 L125.2 92.4 L125.4 90.4 L126.8 89.3 L128.1 89.3 L129.4 88.1 L130.6 86.5 L131.9 84.4 L132.8 86.2 L133.7 88.1 L134.6 89.5 L135.0 90.9 L135.4 92.3 L135.7 94.1 L136.1 95.3 L136.5 97.0 L137.0 99.6 L137.5 101.9 L138.0 103.2 L138.5 104.9 L138.7 106.4 L138.9 108.1 L139.1 110.2 L139.4 111.3 L139.6 113.6 L139.8 114.0 L140.0 115.8 L140.3 117.7 L140.6 119.1 L140.9 121.3 L141.3 122.9 L141.6 124.6 L141.9 125.8 L142.2 126.5 L142.6 128.9 L143.0 130.4 L143.4 131.9 L143.8 133.2 L144.2 135.4 L144.6 137.3 L145.0 137.7 L145.3 140.1 L145.7 141.3 L146.0 143.1 L146.4 145.2 L146.7 146.9 L147.1 148.0 L147.4 149.0 L147.7 151.8 L147.9 152.5 L148.2 154.5 L148.4 156.9 L148.7 158.0 L148.9 159.7 L149.4 162.2 L149.8 163.7 L150.3 164.4 L150.8 166.0 L151.2 167.4 L151.7 168.8 L152.5 170.6 L153.3 173.3 L154.2 173.8 L155.0 175.6 L155.8 177.3 L156.4 178.7 L157.1 180.8 L157.7 182.7 L158.3 184.4 L159.0 185.6 L159.6 187.4 L160.8 187.7 L162.1 189.5 L163.3 191.8 L164.6 192.0 L165.8 193.7 L167.0 195.1 L168.1 196.0 L169.2 197.5 L170.4 198.0 L171.6 199.5 L172.9 201.7 L174.1 201.8 L175.4 204.1 L176.6 204.3 L178.1 206.1 L179.7 206.2 L181.2 206.8 L182.8 206.7 L184.3 207.2 L186.2 209.0 L188.1 209.1 L190.0 210.0 L191.7 212.0 L193.3 213.3 L195.0 213.3 L196.5 215.5 L198.1 215.8 L199.6 216.5 L201.2 217.0 L202.7 218.3 L204.2 220.2 L205.6 220.2 L207.1 221.0 L208.5 222.1 L210.0 223.1 L211.6 224.2 L213.1 225.7 L214.6 225.3 L216.2 226.3 L217.7 228.1 L219.2 228.9 L220.8 229.7 L222.3 229.4 L223.8 230.6 L225.3 232.4 L226.8 232.8 L228.3 234.1 L229.8 234.5 L231.5 234.9 L233.2 236.1 L235.0 237.4 L236.7 238.2 L238.4 238.6 L240.1 239.0 L241.8 239.8 L243.6 240.2 L245.3 240.9 L247.0 242.0 L248.5 241.7 L250.0 243.0 L251.4 244.1 L252.9 244.7 L254.4 244.4 L255.9 246.1 L257.4 246.4 L259.0 246.0 L260.5 246.6 L262.1 246.9 L263.6 247.2 L265.5 248.9 L267.5 248.5 L269.4 249.5 L271.3 248.9 L273.0 248.8 L274.7 250.1 L276.4 250.1 L278.1 250.5 L279.9 250.2 L281.6 250.0 L283.3 250.5 L285.0 249.6 L286.7 250.4 L288.4 250.4 L290.1 250.1 L291.8 250.9 L293.5 250.6 L295.2 251.0 L296.8 251.0 L298.5 251.1 L300.2 251.2 L301.9 251.7 L303.6 252.4 L305.3 252.5 L307.0 252.5 L308.8 252.6 L310.6 252.0 L312.4 253.0 L314.1 252.2 L315.9 252.1 L317.7 252.8 L319.5 253.2 L321.3 252.8" fill="none" stroke="#000080" stroke-width="3.60" stroke-dasharray="1 2.4"/>
<path d="M54.0 257.1 L55.6 256.8 L57.2 257.4 L58.8 257.0 L60.5 257.0 L62.1 257.0 L63.7 257.3 L65.3 257.4 L66.9 257.0 L68.5 257.0 L70.2 257.1 L71.8 256.7 L73.4 256.9 L75.0 257.3 L76.3 256.1 L77.7 254.3 L79.0 253.8 L79.6 251.7 L80.2 250.5 L80.8 248.3 L81.4 246.5 L82.0 245.0 L82.2 243.6 L82.4 241.5 L82.7 240.1 L82.9 238.3 L83.1 236.3 L83.3 234.5 L83.5 232.9 L83.7 231.1 L84.0 229.4 L84.2 227.8 L84.4 226.3 L84.7 224.4 L84.9 222.3 L85.2 220.7 L85.4 219.1 L85.7 217.6 L85.9 215.6 L86.2 213.8 L86.4 212.3 L86.7 210.6 L86.9 208.7 L87.2 207.4 L87.4 206.0 L87.5 204.0 L87.7 202.5 L87.8 200.9 L88.0 199.2 L88.1 197.5 L88.2 195.5 L88.4 193.9 L88.5 191.8 L88.7 190.7 L88.8 188.6 L89.0 187.0 L89.2 185.6 L89.3 183.5 L89.5 181.7 L89.7 180.5 L89.9 178.7 L90.0 176.6 L90.2 174.8 L90.4 173.4 L90.6 171.5 L90.7 170.4 L90.9 168.2 L91.1 166.6 L91.3 165.0 L91.5 163.5 L91.7 161.7 L91.9 160.2 L92.1 158.5 L92.3 156.7 L92.5 154.7 L92.7 153.7 L92.9 151.8 L93.1 149.7 L93.4 148.3 L93.8 147.0 L94.2 145.5 L94.5 143.2 L94.8 141.5 L95.2 140.2 L95.6 138.6 L95.9 137.3 L96.2 135.7 L96.4 133.7 L96.7 132.2 L97.0 130.7 L97.2 129.4 L97.5 127.2 L97.8 125.8 L98.0 124.0 L98.3 122.8 L98.5 120.8 L98.8 119.9 L99.1 118.0 L99.3 116.4 L99.6 114.5 L100.0 113.0 L100.5 111.7 L100.9 110.5 L101.4 108.7 L101.8 106.9 L102.3 105.9 L102.7 104.1 L103.5 102.3 L104.2 100.3 L105.0 98.6 L105.8 97.3 L106.8 95.4 L107.8 94.3 L108.7 93.0 L109.7 91.5 L110.7 90.3 L111.6 88.8 L112.5 87.2 L113.5 85.6 L114.8 84.1 L116.1 83.0 L117.4 82.2 L117.7 80.2 L118.1 78.2 L118.4 76.8 L118.9 74.3 L119.4 72.8 L122.2 72.2 L122.9 69.8 L123.6 68.7 L124.3 66.5 L125.0 64.7 L126.4 63.2 L127.8 61.7 L129.9 60.0 L130.5 58.0 L131.1 56.5 L131.7 54.7 L132.2 55.7 L132.6 57.7 L133.1 59.4 L133.5 60.9 L134.0 62.6 L134.4 64.3 L134.8 66.3 L135.3 67.7 L135.7 69.1 L136.1 70.9 L136.5 72.8 L136.9 74.7 L137.4 76.2 L137.8 78.4 L138.2 79.8 L138.4 81.8 L138.6 83.3 L138.9 84.6 L139.1 86.7 L139.3 88.0 L139.6 89.8 L139.9 91.6 L140.2 93.3 L140.5 94.8 L140.8 96.2 L141.0 98.5 L141.3 100.2 L141.6 101.6 L141.9 103.4 L142.2 104.8 L142.5 106.9 L142.7 108.3 L143.0 109.5 L143.3 111.6 L143.6 113.3 L143.8 114.4 L144.1 116.5 L144.5 117.7 L144.9 119.0 L145.3 121.0 L145.7 122.3 L146.1 124.2 L146.5 125.7 L146.9 126.9 L147.3 128.8 L147.7 130.7 L148.1 131.9 L148.4 133.6 L148.8 135.4 L149.2 136.7 L149.6 138.3 L150.0 140.0 L150.4 141.7 L150.8 142.8 L151.2 144.3 L151.6 146.4 L152.0 147.9 L152.4 149.2 L153.0 151.2 L153.7 152.7 L154.3 154.0 L154.9 155.8 L155.5 157.2 L156.2 158.7 L156.8 159.8 L157.2 161.5 L157.6 163.9 L158.1 165.8 L158.5 167.3 L158.9 169.3 L159.8 170.9 L160.8 172.1 L161.8 174.0 L162.7 175.5 L163.9 176.5 L165.2 177.6 L166.4 179.2 L167.7 180.2 L168.9 181.8 L170.1 182.9 L171.2 184.6 L172.3 186.0 L173.5 187.7 L174.7 189.2 L175.8 190.2 L176.9 191.5 L178.1 193.2 L179.7 193.9 L181.2 195.0 L182.8 195.7 L184.3 196.6 L185.9 197.8 L187.4 199.1 L189.0 200.0 L190.5 200.6 L192.1 201.5 L193.6 202.2 L194.9 203.3 L196.1 204.4 L197.4 205.9 L198.7 206.2 L199.9 207.9 L201.2 208.5 L202.7 209.5 L204.3 210.4 L205.8 212.0 L206.9 212.7 L207.9 214.3 L208.9 215.6 L210.0 216.7 L211.6 217.7 L213.3 219.3 L214.9 220.1 L216.4 221.2 L218.0 222.4 L219.6 222.9 L221.1 224.5 L222.3 225.6 L223.6 226.2 L224.8 227.5 L226.0 229.0 L227.4 229.2 L228.9 230.2 L230.3 230.5 L231.8 231.6 L233.2 232.0 L234.7 232.9 L236.2 233.5 L237.7 234.7 L239.1 235.3 L240.6 235.9 L242.1 236.7 L243.7 237.3 L245.3 238.3 L246.8 238.6 L248.4 239.6 L250.0 240.4 L251.5 240.9 L252.9 241.4 L254.4 242.2 L255.9 243.3 L257.4 243.4 L259.0 244.3 L260.5 244.6 L262.1 245.4 L263.6 245.8 L265.1 246.1 L266.7 246.3 L268.2 246.5 L269.8 247.4 L271.3 248.0 L273.0 248.2 L274.7 247.8 L276.4 247.8 L278.1 248.6 L279.9 248.5 L281.6 248.4 L283.3 248.7 L285.0 248.3 L286.7 248.8 L288.4 249.1 L290.1 249.2 L291.8 249.1 L293.5 249.2 L295.2 249.8 L296.8 250.2 L298.5 249.8 L300.2 249.9 L301.9 250.1 L303.6 250.9 L305.3 250.7 L307.0 251.0 L308.8 251.6 L310.6 251.5 L312.4 251.4 L314.1 252.0 L315.9 251.6 L317.7 252.0 L319.5 252.6 L321.3 252.3" fill="none" stroke="#008000" stroke-width="2.10" stroke-linejoin="round"/>
<path d="M53.7 256.7 L55.4 257.0 L57.1 256.8 L58.8 257.3 L60.5 256.7 L62.2 257.1 L63.9 256.8 L65.5 257.1 L67.2 256.8 L68.9 257.0 L70.6 256.7 L72.3 256.6 L74.0 256.8 L75.3 255.6 L76.5 253.8 L77.8 252.3 L78.3 250.9 L78.7 249.1 L79.2 247.6 L79.7 246.2 L80.1 244.6 L80.6 243.1 L80.8 241.2 L81.1 239.3 L81.3 237.6 L81.5 236.1 L81.8 234.3 L82.0 232.8 L82.2 230.9 L82.4 229.6 L82.7 227.8 L82.9 226.1 L83.1 224.5 L83.3 222.6 L83.6 220.9 L83.8 219.1 L84.0 217.2 L84.2 216.1 L84.4 214.2 L84.6 212.2 L84.9 211.1 L85.1 209.1 L85.3 207.5 L85.5 205.7 L85.6 203.7 L85.8 202.6 L85.9 200.4 L86.1 198.8 L86.2 197.5 L86.4 195.2 L86.6 193.8 L86.7 192.1 L86.9 190.2 L87.0 189.0 L87.2 186.9 L87.4 185.0 L87.5 183.6 L87.7 181.6 L87.9 180.4 L88.0 178.8 L88.2 177.2 L88.3 174.9 L88.5 173.7 L88.7 171.7 L88.8 170.2 L89.0 168.4 L89.2 166.7 L89.4 164.9 L89.6 163.5 L89.8 161.5 L90.0 160.4 L90.3 158.1 L90.5 157.1 L90.7 154.8 L90.9 153.1 L91.1 151.9 L91.3 150.0 L91.4 148.5 L91.6 146.6 L91.7 145.0 L91.9 143.0 L92.0 141.7 L92.2 139.9 L92.3 138.5 L92.5 136.2 L92.6 134.5 L92.8 133.3 L92.9 131.7 L93.1 129.7 L93.2 128.2 L93.4 126.4 L93.5 124.6 L93.7 123.0 L94.0 121.5 L94.2 119.4 L94.4 118.0 L94.7 116.6 L94.9 114.7 L95.1 113.2 L95.4 111.4 L95.6 109.8 L95.8 108.3 L96.1 106.8 L96.3 105.3 L96.5 103.3 L96.8 101.4 L97.0 99.9 L97.2 98.0 L97.5 96.5 L97.8 95.1 L98.0 93.4 L98.2 91.5 L98.5 89.8 L98.9 88.1 L99.3 86.6 L99.8 85.3 L100.2 83.5 L100.6 82.4 L101.0 80.5 L101.5 78.6 L102.1 77.0 L102.8 74.9 L103.5 73.7 L104.2 72.0 L105.6 70.5 L106.9 69.6 L108.3 68.1 L109.7 66.9 L111.1 65.7 L112.5 64.5 L113.9 63.6 L115.3 62.2 L115.8 60.4 L116.2 58.1 L116.7 56.7 L118.8 57.2 L119.5 55.3 L120.1 53.5 L120.8 51.7 L121.8 50.1 L122.9 48.8 L125.0 48.3 L125.7 46.7 L126.4 45.2 L127.1 43.1 L128.1 45.0 L129.2 46.3 L130.4 44.8 L131.7 43.6 L132.8 45.1 L134.0 47.7 L134.4 49.4 L134.8 50.6 L135.3 52.5 L135.7 54.5 L136.1 55.7 L136.8 57.9 L137.5 59.8 L138.2 61.4 L138.4 62.8 L138.5 64.5 L138.7 66.6 L138.8 67.9 L139.0 69.5 L139.2 71.2 L139.3 73.2 L139.5 74.3 L139.6 75.8 L139.8 78.1 L140.1 79.3 L140.4 81.0 L140.6 83.1 L140.9 84.3 L141.2 85.8 L141.5 88.0 L141.8 89.2 L142.0 90.9 L142.3 93.0 L142.6 94.2 L142.9 96.4 L143.2 97.7 L143.6 99.4 L143.9 101.0 L144.2 102.9 L144.5 104.6 L144.9 106.2 L145.2 108.0 L145.7 109.5 L146.2 111.5 L146.8 113.2 L147.3 114.7 L147.8 116.3 L148.2 117.4 L148.6 119.1 L149.0 120.6 L149.4 122.2 L149.8 124.4 L150.2 125.9 L150.6 127.5 L151.0 128.8 L151.4 130.1 L151.8 131.9 L152.1 133.2 L152.5 135.4 L152.9 136.6 L153.3 138.2 L153.7 140.2 L154.1 141.3 L154.5 143.4 L154.9 144.5 L155.3 146.3 L155.7 147.5 L156.1 149.7 L157.0 151.2 L158.0 153.0 L158.9 155.1 L159.7 156.7 L160.4 158.2 L161.2 159.7 L162.1 161.6 L163.1 162.8 L164.1 164.9 L165.0 166.1 L165.9 167.5 L166.9 169.2 L167.8 170.5 L168.8 172.2 L169.7 173.9 L170.9 175.1 L172.1 176.3 L173.4 177.5 L174.6 178.9 L175.8 180.3 L176.8 181.3 L177.9 182.9 L178.9 183.9 L179.9 185.0 L181.0 186.3 L182.0 188.0 L183.2 188.9 L184.5 189.9 L185.7 191.1 L187.0 192.4 L188.2 193.1 L189.6 194.3 L191.0 195.6 L192.3 196.6 L193.7 198.2 L195.1 199.4 L196.3 200.5 L197.6 201.5 L198.8 202.6 L200.1 203.9 L201.3 204.6 L202.8 205.9 L204.3 206.0 L205.8 207.3 L206.9 208.4 L207.9 210.5 L208.9 211.7 L210.0 213.2 L211.2 214.7 L212.4 216.0 L213.7 217.2 L214.9 218.4 L216.4 219.5 L218.0 220.0 L219.6 221.3 L221.1 222.2 L222.3 224.5 L223.6 226.1 L225.2 227.0 L226.7 227.9 L228.2 228.8 L229.8 229.3 L231.3 230.2 L232.8 230.7 L234.2 231.1 L235.7 232.4 L237.2 232.6 L238.7 233.4 L240.2 234.7 L241.8 235.1 L243.3 236.1 L245.0 236.5 L246.7 237.5 L248.3 238.8 L250.0 239.2 L252.0 240.2 L253.9 241.2 L255.9 241.4 L257.4 242.2 L259.0 242.7 L260.5 243.1 L262.1 243.6 L263.6 244.0 L265.1 244.1 L266.7 244.7 L268.2 245.5 L269.8 246.3 L271.3 246.3 L273.0 246.7 L274.7 246.6 L276.5 247.3 L278.2 247.2 L279.9 247.4 L281.6 247.7 L283.3 247.5 L285.1 248.1 L286.8 248.3 L288.5 248.6 L290.2 248.4 L291.9 248.6 L293.5 248.9 L295.2 249.6 L296.9 249.6 L298.6 249.8 L300.3 250.2 L302.0 250.5 L303.6 250.5 L305.3 250.8 L307.0 251.4 L308.8 251.6 L310.6 251.4 L312.4 251.4 L314.1 252.1 L315.9 252.2 L317.7 252.2 L319.5 252.3 L321.3 252.8" fill="none" stroke="#ff8000" stroke-width="2.30" stroke-linejoin="round"/>
<path d="M257 37.0H295.5" stroke="#000000" stroke-width="2.1"/>
<rect x="274.3" y="35.0" width="4" height="4" fill="#000000"/>
<text x="299.5" y="42.6" font-size="17" font-family="Liberation Serif, serif">300K</text>
<path d="M257 58.0H295.5" stroke="#00ff00" stroke-width="2.1"/>
<path d="M276.3 55.0L278.8 59.5L273.8 59.5Z" fill="#00ff00"/>
<text x="299.5" y="63.6" font-size="17" font-family="Liberation Serif, serif">280K</text>
<path d="M257 79.0H295.5" stroke="#ff00ff" stroke-width="2.1"/>
<path d="M273.3 79.0L277.8 76.5L277.8 81.5Z" fill="#ff00ff"/>
<text x="299.5" y="84.6" font-size="17" font-family="Liberation Serif, serif">220K</text>
<path d="M257 100.0H295.5" stroke="#000080" stroke-width="2.1"/>
<path d="M276.3 97.5V102.5M274.3 98.5L278.3 101.5M278.3 98.5L274.3 101.5" stroke="#000080" stroke-width="1"/>
<text x="299.5" y="105.6" font-size="17" font-family="Liberation Serif, serif">160K</text>
<path d="M257 121.0H295.5" stroke="#008000" stroke-width="2.1"/>
<path d="M276.3 119.0V123.0" stroke="#008000" stroke-width="1"/>
<text x="299.5" y="126.6" font-size="17" font-family="Liberation Serif, serif">100K</text>
<path d="M257 142.0H295.5" stroke="#ff8000" stroke-width="2.1"/>

<text x="299.5" y="147.6" font-size="17" font-family="Liberation Serif, serif">40K</text>
<rect x="384.00" y="22.50" width="339.20" height="254.60" fill="none" stroke="#000" stroke-width="2.50"/><path d="M408.20 277.10V272.50M408.20 22.50V27.10M456.70 277.10V272.50M456.70 22.50V27.10M505.20 277.10V272.50M505.20 22.50V27.10M553.70 277.10V272.50M553.70 22.50V27.10M602.20 277.10V272.50M602.20 22.50V27.10M650.70 277.10V272.50M650.70 22.50V27.10M699.20 277.10V272.50M699.20 22.50V27.10M432.45 277.10V274.80M432.45 22.50V24.80M480.95 277.10V274.80M480.95 22.50V24.80M529.45 277.10V274.80M529.45 22.50V24.80M577.95 277.10V274.80M577.95 22.50V24.80M626.45 277.10V274.80M626.45 22.50V24.80M674.95 277.10V274.80M674.95 22.50V24.80M384.00 38.10H388.60M723.20 38.10H718.60M384.00 53.50H388.60M723.20 53.50H718.60M384.00 68.90H388.60M723.20 68.90H718.60M384.00 84.30H388.60M723.20 84.30H718.60M384.00 99.70H388.60M723.20 99.70H718.60M384.00 115.10H388.60M723.20 115.10H718.60M384.00 130.50H388.60M723.20 130.50H718.60M384.00 145.90H388.60M723.20 145.90H718.60M384.00 161.30H388.60M723.20 161.30H718.60M384.00 176.70H388.60M723.20 176.70H718.60M384.00 192.10H388.60M723.20 192.10H718.60M384.00 207.50H388.60M723.20 207.50H718.60M384.00 222.90H388.60M723.20 222.90H718.60M384.00 238.30H388.60M723.20 238.30H718.60M384.00 253.70H388.60M723.20 253.70H718.60M384.00 269.10H388.60M723.20 269.10H718.60M384.00 30.40H386.30M723.20 30.40H720.90M384.00 45.80H386.30M723.20 45.80H720.90M384.00 61.20H386.30M723.20 61.20H720.90M384.00 76.60H386.30M723.20 76.60H720.90M384.00 92.00H386.30M723.20 92.00H720.90M384.00 107.40H386.30M723.20 107.40H720.90M384.00 122.80H386.30M723.20 122.80H720.90M384.00 138.20H386.30M723.20 138.20H720.90M384.00 153.60H386.30M723.20 153.60H720.90M384.00 169.00H386.30M723.20 169.00H720.90M384.00 184.40H386.30M723.20 184.40H720.90M384.00 199.80H386.30M723.20 199.80H720.90M384.00 215.20H386.30M723.20 215.20H720.90M384.00 230.60H386.30M723.20 230.60H720.90M384.00 246.00H386.30M723.20 246.00H720.90M384.00 261.40H386.30M723.20 261.40H720.90" stroke="#000" stroke-width="2.40" fill="none"/>
<text x="408.20" y="293.6" text-anchor="middle" font-size="15" font-family="Liberation Serif, serif">350</text>
<text x="456.70" y="293.6" text-anchor="middle" font-size="15" font-family="Liberation Serif, serif">400</text>
<text x="505.20" y="293.6" text-anchor="middle" font-size="15" font-family="Liberation Serif, serif">450</text>
<text x="553.70" y="293.6" text-anchor="middle" font-size="15" font-family="Liberation Serif, serif">500</text>
<text x="602.20" y="293.6" text-anchor="middle" font-size="15" font-family="Liberation Serif, serif">550</text>
<text x="650.70" y="293.6" text-anchor="middle" font-size="15" font-family="Liberation Serif, serif">600</text>
<text x="699.20" y="293.6" text-anchor="middle" font-size="15" font-family="Liberation Serif, serif">650</text>
<text x="554.2" y="318.6" text-anchor="middle" font-size="16.5" font-family="Liberation Serif, serif">Wavelength (nm)</text>
<text x="543.5" y="16.3" text-anchor="middle" font-size="16.7" font-family="Liberation Serif, serif">254nm Excited</text>
<text transform="translate(374.4,148.8) rotate(-90)" text-anchor="middle" font-size="17" font-family="Liberation Serif, serif">PL Intensity (a.u.)</text>
<path d="M397.1 253.3 L398.8 253.3 L401.2 253.4 L402.6 253.5 L404.0 253.6 L405.5 253.6 L407.0 253.7 L408.6 253.7 L410.2 253.7 L411.7 253.8 L413.2 253.8 L414.5 253.8 L415.9 253.7 L418.0 253.6 L419.6 253.4 L421.0 253.1 L422.1 252.8 L423.0 252.4 L423.8 251.9 L424.5 251.4 L425.3 250.8 L426.1 250.2 L427.0 249.5 L427.7 248.8 L428.5 248.1 L429.2 247.3 L429.9 246.4 L430.6 245.5 L431.4 244.4 L432.1 243.2 L432.9 241.9 L433.6 240.4 L434.4 238.7 L435.1 237.0 L435.9 235.3 L436.6 233.5 L437.4 231.8 L438.1 230.2 L438.8 228.6 L439.6 227.1 L440.3 225.5 L441.0 223.9 L441.8 222.4 L442.5 220.9 L443.3 219.5 L444.1 218.1 L444.9 216.7 L445.7 215.4 L446.5 214.1 L447.3 212.8 L448.2 211.6 L449.1 210.4 L450.0 209.4 L451.0 208.5 L452.1 207.7 L453.2 207.0 L454.4 206.4 L455.6 205.9 L456.8 205.4 L458.0 205.1 L459.2 204.9 L460.4 204.8 L461.5 204.9 L462.7 205.1 L463.8 205.5 L464.9 205.9 L466.0 206.4 L467.1 207.0 L468.1 207.5 L469.0 208.0 L469.9 208.5 L470.6 208.9 L471.3 209.4 L472.0 209.9 L472.6 210.4 L473.3 210.9 L474.1 211.4 L475.0 212.0 L476.0 212.6 L477.1 213.3 L478.3 213.9 L479.5 214.6 L480.7 215.3 L481.9 216.0 L483.1 216.7 L484.3 217.4 L485.5 218.1 L486.6 218.8 L487.8 219.5 L488.9 220.2 L490.1 220.9 L491.2 221.6 L492.4 222.2 L493.5 222.8 L494.6 223.4 L495.8 223.9 L496.9 224.3 L498.1 224.8 L499.2 225.2 L500.3 225.7 L501.4 226.1 L502.4 226.6 L503.4 227.1 L504.3 227.6 L505.2 228.0 L506.1 228.5 L507.0 229.0 L507.9 229.5 L508.8 229.9 L509.8 230.4 L510.9 230.9 L512.0 231.4 L513.2 231.8 L514.5 232.3 L515.7 232.8 L516.9 233.2 L518.0 233.7 L519.1 234.1 L520.0 234.5 L520.8 234.8 L521.5 235.1 L522.2 235.4 L523.0 235.7 L523.9 236.0 L525.1 236.4 L526.5 236.8 L528.3 237.3 L530.4 237.8 L532.7 238.4 L534.0 238.7 L535.2 239.0 L536.5 239.3 L537.8 239.6 L539.0 239.9 L540.3 240.2 L541.5 240.5 L542.7 240.7 L545.0 241.3 L547.1 241.8 L549.1 242.4 L551.1 242.9 L553.0 243.4 L554.9 243.9 L556.8 244.4 L558.9 244.9 L561.0 245.3 L563.2 245.7 L565.4 246.1 L567.7 246.4 L570.1 246.8 L571.2 246.9 L572.4 247.1 L573.7 247.2 L574.9 247.3 L576.1 247.5 L577.4 247.6 L578.7 247.7 L580.0 247.8 L581.3 247.9 L582.6 248.0 L583.9 248.0 L585.3 248.1 L586.6 248.1 L587.9 248.1 L589.3 248.2 L590.7 248.2 L592.1 248.2 L593.5 248.2 L595.0 248.3 L596.5 248.3 L598.1 248.4 L599.7 248.4 L601.4 248.5 L603.1 248.6 L604.8 248.7 L606.6 248.9 L608.3 249.0 L610.0 249.2 L611.7 249.4 L613.5 249.6 L614.7 249.7 L615.9 249.9 L617.2 250.0 L618.5 250.2 L619.8 250.3 L621.2 250.4 L622.6 250.6 L624.1 250.7 L625.6 250.8 L626.8 250.9 L628.1 251.0 L629.3 251.1 L630.6 251.2 L632.0 251.3 L633.4 251.3 L634.8 251.4 L636.2 251.5 L637.6 251.5 L638.9 251.6 L640.3 251.6 L641.7 251.7 L643.1 251.7 L644.4 251.8 L645.8 251.8 L647.2 251.9 L648.5 251.9 L649.9 251.9 L651.3 252.0 L652.6 252.0 L653.9 252.0 L655.2 252.1 L656.5 252.1 L657.7 252.1 L659.0 252.1 L660.3 252.2 L661.7 252.2 L663.0 252.2 L664.3 252.2 L665.7 252.3 L667.0 252.3 L668.3 252.3 L669.7 252.3 L671.0 252.4 L672.3 252.4 L673.6 252.4 L674.9 252.4 L676.2 252.4 L677.4 252.5 L678.7 252.5 L680.1 252.5 L681.5 252.5 L682.9 252.5 L684.3 252.6 L685.6 252.6 L687.0 252.6 L688.4 252.6 L689.8 252.6 L691.2 252.7 L692.6 252.7 L694.0 252.7 L695.2 252.7 L696.5 252.8 L697.7 252.8 L699.0 252.8" fill="none" stroke="#000000" stroke-width="2.80" stroke-linejoin="round"/><path d="M397.1 253.3 L398.8 253.3 L401.2 253.4 L402.6 253.5 L404.0 253.6 L405.5 253.6 L407.0 253.7 L408.6 253.7 L410.2 253.7 L411.7 253.8 L413.2 253.8 L414.5 253.8 L415.9 253.7 L418.0 253.6 L419.6 253.4 L421.0 253.1 L422.1 252.8 L423.0 252.4 L423.8 251.9 L424.5 251.4 L425.3 250.8 L426.1 250.2 L427.0 249.5 L427.7 248.8 L428.5 248.1 L429.2 247.3 L429.9 246.4 L430.6 245.5 L431.4 244.4 L432.1 243.2 L432.9 241.9 L433.6 240.4 L434.4 238.7 L435.1 237.0 L435.9 235.3 L436.6 233.5 L437.4 231.8 L438.1 230.2 L438.8 228.6 L439.6 227.1 L440.3 225.5 L441.0 223.9 L441.8 222.4 L442.5 220.9 L443.3 219.5 L444.1 218.1 L444.9 216.7 L445.7 215.4 L446.5 214.1 L447.3 212.8 L448.2 211.6 L449.1 210.4 L450.0 209.4 L451.0 208.5 L452.1 207.7 L453.2 207.0 L454.4 206.4 L455.6 205.9 L456.8 205.4 L458.0 205.1 L459.2 204.9 L460.4 204.8 L461.5 204.9 L462.7 205.1 L463.8 205.5 L464.9 205.9 L466.0 206.4 L467.1 207.0 L468.1 207.5 L469.0 208.0 L469.9 208.5 L470.6 208.9 L471.3 209.4 L472.0 209.9 L472.6 210.4 L473.3 210.9 L474.1 211.4 L475.0 212.0 L476.0 212.6 L477.1 213.3 L478.3 213.9 L479.5 214.6 L480.7 215.3 L481.9 216.0 L483.1 216.7 L484.3 217.4 L485.5 218.1 L486.6 218.8 L487.8 219.5 L488.9 220.2 L490.1 220.9 L491.2 221.6 L492.4 222.2 L493.5 222.8 L494.6 223.4 L495.8 223.9 L496.9 224.3 L498.1 224.8 L499.2 225.2 L500.3 225.7 L501.4 226.1 L502.4 226.6 L503.4 227.1 L504.3 227.6 L505.2 228.0 L506.1 228.5 L507.0 229.0 L507.9 229.5 L508.8 229.9 L509.8 230.4 L510.9 230.9 L512.0 231.4 L513.2 231.8 L514.5 232.3 L515.7 232.8 L516.9 233.2 L518.0 233.7 L519.1 234.1 L520.0 234.5 L520.8 234.8 L521.5 235.1 L522.2 235.4 L523.0 235.7 L523.9 236.0 L525.1 236.4 L526.5 236.8 L528.3 237.3 L530.4 237.8 L532.7 238.4 L534.0 238.7 L535.2 239.0 L536.5 239.3 L537.8 239.6 L539.0 239.9 L540.3 240.2 L541.5 240.5 L542.7 240.7 L545.0 241.3 L547.1 241.8 L549.1 242.4 L551.1 242.9 L553.0 243.4 L554.9 243.9 L556.8 244.4 L558.9 244.9 L561.0 245.3 L563.2 245.7 L565.4 246.1 L567.7 246.4 L570.1 246.8 L571.2 246.9 L572.4 247.1 L573.7 247.2 L574.9 247.3 L576.1 247.5 L577.4 247.6 L578.7 247.7 L580.0 247.8 L581.3 247.9 L582.6 248.0 L583.9 248.0 L585.3 248.1 L586.6 248.1 L587.9 248.1 L589.3 248.2 L590.7 248.2 L592.1 248.2 L593.5 248.2 L595.0 248.3 L596.5 248.3 L598.1 248.4 L599.7 248.4 L601.4 248.5 L603.1 248.6 L604.8 248.7 L606.6 248.9 L608.3 249.0 L610.0 249.2 L611.7 249.4 L613.5 249.6 L614.7 249.7 L615.9 249.9 L617.2 250.0 L618.5 250.2 L619.8 250.3 L621.2 250.4 L622.6 250.6 L624.1 250.7 L625.6 250.8 L626.8 250.9 L628.1 251.0 L629.3 251.1 L630.6 251.2 L632.0 251.3 L633.4 251.3 L634.8 251.4 L636.2 251.5 L637.6 251.5 L638.9 251.6 L640.3 251.6 L641.7 251.7 L643.1 251.7 L644.4 251.8 L645.8 251.8 L647.2 251.9 L648.5 251.9 L649.9 251.9 L651.3 252.0 L652.6 252.0 L653.9 252.0 L655.2 252.1 L656.5 252.1 L657.7 252.1 L659.0 252.1 L660.3 252.2 L661.7 252.2 L663.0 252.2 L664.3 252.2 L665.7 252.3 L667.0 252.3 L668.3 252.3 L669.7 252.3 L671.0 252.4 L672.3 252.4 L673.6 252.4 L674.9 252.4 L676.2 252.4 L677.4 252.5 L678.7 252.5 L680.1 252.5 L681.5 252.5 L682.9 252.5 L684.3 252.6 L685.6 252.6 L687.0 252.6 L688.4 252.6 L689.8 252.6 L691.2 252.7 L692.6 252.7 L694.0 252.7 L695.2 252.7 L696.5 252.8 L697.7 252.8 L699.0 252.8" fill="none" stroke="#000000" stroke-width="4.20" stroke-dasharray="1.6 1.4"/>
<path d="M397.1 253.3 L398.6 253.3 L400.7 253.4 L402.0 253.4 L403.3 253.5 L404.7 253.5 L406.0 253.5 L407.5 253.6 L408.9 253.6 L410.2 253.6 L411.6 253.6 L412.8 253.6 L414.0 253.6 L416.0 253.5 L417.5 253.4 L418.8 253.2 L419.9 253.0 L420.9 252.8 L421.7 252.5 L422.5 252.2 L423.3 251.7 L424.1 251.2 L425.0 250.6 L425.7 249.9 L426.5 249.2 L427.2 248.4 L427.9 247.5 L428.6 246.6 L429.4 245.4 L430.1 244.2 L430.8 242.8 L431.6 241.2 L432.3 239.6 L433.0 237.8 L433.8 235.9 L434.5 234.0 L435.3 232.1 L436.1 230.2 L436.9 228.3 L437.8 226.2 L438.7 224.1 L439.5 222.0 L440.4 219.9 L441.3 217.8 L442.2 215.9 L443.1 214.1 L443.9 212.4 L444.8 210.8 L445.5 209.3 L446.3 207.9 L447.2 206.5 L448.0 205.3 L449.0 204.1 L450.0 203.0 L451.1 202.0 L452.4 201.0 L453.7 200.1 L455.1 199.3 L456.5 198.5 L457.8 198.0 L459.2 197.5 L460.4 197.3 L461.6 197.2 L462.7 197.4 L463.9 197.7 L465.0 198.1 L466.0 198.6 L467.1 199.2 L468.1 199.9 L469.0 200.5 L469.9 201.2 L470.6 202.0 L471.3 202.9 L472.0 203.9 L472.6 204.8 L473.3 205.8 L474.1 206.6 L475.0 207.4 L476.0 208.1 L477.1 208.7 L478.3 209.2 L479.5 209.7 L480.7 210.3 L481.9 210.8 L483.1 211.4 L484.3 212.0 L485.5 212.7 L486.6 213.4 L487.8 214.2 L488.9 215.0 L490.0 215.8 L491.2 216.6 L492.3 217.4 L493.5 218.2 L494.7 219.0 L495.8 219.8 L497.0 220.6 L498.2 221.5 L499.3 222.3 L500.5 223.0 L501.7 223.7 L502.8 224.4 L504.0 225.0 L505.1 225.5 L506.3 225.9 L507.4 226.3 L508.6 226.7 L509.7 227.1 L510.8 227.5 L511.8 228.0 L512.7 228.5 L513.6 229.0 L514.4 229.5 L515.1 230.0 L516.0 230.5 L516.8 231.0 L517.8 231.5 L519.0 232.0 L520.3 232.5 L521.8 233.0 L523.5 233.5 L525.1 234.0 L526.9 234.5 L528.6 235.0 L530.3 235.5 L532.0 236.0 L533.6 236.5 L535.2 237.0 L536.7 237.6 L538.3 238.1 L539.9 238.6 L541.5 239.2 L543.2 239.7 L545.0 240.3 L546.8 240.9 L548.7 241.5 L550.6 242.1 L552.6 242.8 L554.6 243.4 L556.7 244.0 L558.8 244.5 L561.0 245.0 L563.2 245.4 L565.4 245.9 L567.7 246.2 L570.1 246.6 L571.2 246.8 L572.4 246.9 L573.7 247.1 L574.9 247.2 L576.1 247.3 L577.4 247.5 L578.7 247.6 L580.0 247.7 L581.3 247.8 L582.6 247.9 L583.9 247.9 L585.3 248.0 L586.6 248.0 L587.9 248.0 L589.3 248.1 L590.7 248.1 L592.1 248.1 L593.5 248.1 L595.0 248.2 L596.5 248.2 L598.1 248.2 L599.7 248.3 L601.4 248.4 L603.1 248.5 L604.8 248.6 L606.6 248.8 L608.3 249.0 L610.0 249.1 L611.7 249.3 L613.5 249.5 L614.7 249.7 L615.9 249.8 L617.2 250.0 L618.5 250.1 L619.8 250.3 L621.2 250.4 L622.6 250.5 L624.1 250.7 L625.6 250.8 L626.8 250.9 L628.1 251.0 L629.3 251.1 L630.6 251.2 L632.0 251.3 L633.4 251.3 L634.8 251.4 L636.2 251.5 L637.6 251.6 L638.9 251.6 L640.3 251.7 L641.7 251.7 L643.1 251.8 L644.4 251.8 L645.8 251.8 L647.2 251.9 L648.5 251.9 L649.9 251.9 L651.3 252.0 L652.6 252.0 L653.9 252.0 L655.2 252.1 L656.5 252.1 L657.7 252.1 L659.0 252.1 L660.3 252.2 L661.7 252.2 L663.0 252.2 L664.3 252.2 L665.7 252.3 L667.0 252.3 L668.3 252.3 L669.7 252.3 L671.0 252.4 L672.3 252.4 L673.6 252.4 L674.9 252.4 L676.2 252.4 L677.4 252.5 L678.7 252.5 L680.1 252.5 L681.5 252.5 L682.9 252.5 L684.3 252.6 L685.6 252.6 L687.0 252.6 L688.4 252.6 L689.8 252.6 L691.2 252.7 L692.6 252.7 L694.0 252.7 L695.2 252.7 L696.5 252.8 L697.7 252.8 L699.0 252.8" fill="none" stroke="#00ff00" stroke-width="2.50" stroke-linejoin="round"/><path d="M397.1 253.3 L398.6 253.3 L400.7 253.4 L402.0 253.4 L403.3 253.5 L404.7 253.5 L406.0 253.5 L407.5 253.6 L408.9 253.6 L410.2 253.6 L411.6 253.6 L412.8 253.6 L414.0 253.6 L416.0 253.5 L417.5 253.4 L418.8 253.2 L419.9 253.0 L420.9 252.8 L421.7 252.5 L422.5 252.2 L423.3 251.7 L424.1 251.2 L425.0 250.6 L425.7 249.9 L426.5 249.2 L427.2 248.4 L427.9 247.5 L428.6 246.6 L429.4 245.4 L430.1 244.2 L430.8 242.8 L431.6 241.2 L432.3 239.6 L433.0 237.8 L433.8 235.9 L434.5 234.0 L435.3 232.1 L436.1 230.2 L436.9 228.3 L437.8 226.2 L438.7 224.1 L439.5 222.0 L440.4 219.9 L441.3 217.8 L442.2 215.9 L443.1 214.1 L443.9 212.4 L444.8 210.8 L445.5 209.3 L446.3 207.9 L447.2 206.5 L448.0 205.3 L449.0 204.1 L450.0 203.0 L451.1 202.0 L452.4 201.0 L453.7 200.1 L455.1 199.3 L456.5 198.5 L457.8 198.0 L459.2 197.5 L460.4 197.3 L461.6 197.2 L462.7 197.4 L463.9 197.7 L465.0 198.1 L466.0 198.6 L467.1 199.2 L468.1 199.9 L469.0 200.5 L469.9 201.2 L470.6 202.0 L471.3 202.9 L472.0 203.9 L472.6 204.8 L473.3 205.8 L474.1 206.6 L475.0 207.4 L476.0 208.1 L477.1 208.7 L478.3 209.2 L479.5 209.7 L480.7 210.3 L481.9 210.8 L483.1 211.4 L484.3 212.0 L485.5 212.7 L486.6 213.4 L487.8 214.2 L488.9 215.0 L490.0 215.8 L491.2 216.6 L492.3 217.4 L493.5 218.2 L494.7 219.0 L495.8 219.8 L497.0 220.6 L498.2 221.5 L499.3 222.3 L500.5 223.0 L501.7 223.7 L502.8 224.4 L504.0 225.0 L505.1 225.5 L506.3 225.9 L507.4 226.3 L508.6 226.7 L509.7 227.1 L510.8 227.5 L511.8 228.0 L512.7 228.5 L513.6 229.0 L514.4 229.5 L515.1 230.0 L516.0 230.5 L516.8 231.0 L517.8 231.5 L519.0 232.0 L520.3 232.5 L521.8 233.0 L523.5 233.5 L525.1 234.0 L526.9 234.5 L528.6 235.0 L530.3 235.5 L532.0 236.0 L533.6 236.5 L535.2 237.0 L536.7 237.6 L538.3 238.1 L539.9 238.6 L541.5 239.2 L543.2 239.7 L545.0 240.3 L546.8 240.9 L548.7 241.5 L550.6 242.1 L552.6 242.8 L554.6 243.4 L556.7 244.0 L558.8 244.5 L561.0 245.0 L563.2 245.4 L565.4 245.9 L567.7 246.2 L570.1 246.6 L571.2 246.8 L572.4 246.9 L573.7 247.1 L574.9 247.2 L576.1 247.3 L577.4 247.5 L578.7 247.6 L580.0 247.7 L581.3 247.8 L582.6 247.9 L583.9 247.9 L585.3 248.0 L586.6 248.0 L587.9 248.0 L589.3 248.1 L590.7 248.1 L592.1 248.1 L593.5 248.1 L595.0 248.2 L596.5 248.2 L598.1 248.2 L599.7 248.3 L601.4 248.4 L603.1 248.5 L604.8 248.6 L606.6 248.8 L608.3 249.0 L610.0 249.1 L611.7 249.3 L613.5 249.5 L614.7 249.7 L615.9 249.8 L617.2 250.0 L618.5 250.1 L619.8 250.3 L621.2 250.4 L622.6 250.5 L624.1 250.7 L625.6 250.8 L626.8 250.9 L628.1 251.0 L629.3 251.1 L630.6 251.2 L632.0 251.3 L633.4 251.3 L634.8 251.4 L636.2 251.5 L637.6 251.6 L638.9 251.6 L640.3 251.7 L641.7 251.7 L643.1 251.8 L644.4 251.8 L645.8 251.8 L647.2 251.9 L648.5 251.9 L649.9 251.9 L651.3 252.0 L652.6 252.0 L653.9 252.0 L655.2 252.1 L656.5 252.1 L657.7 252.1 L659.0 252.1 L660.3 252.2 L661.7 252.2 L663.0 252.2 L664.3 252.2 L665.7 252.3 L667.0 252.3 L668.3 252.3 L669.7 252.3 L671.0 252.4 L672.3 252.4 L673.6 252.4 L674.9 252.4 L676.2 252.4 L677.4 252.5 L678.7 252.5 L680.1 252.5 L681.5 252.5 L682.9 252.5 L684.3 252.6 L685.6 252.6 L687.0 252.6 L688.4 252.6 L689.8 252.6 L691.2 252.7 L692.6 252.7 L694.0 252.7 L695.2 252.7 L696.5 252.8 L697.7 252.8 L699.0 252.8" fill="none" stroke="#00ff00" stroke-width="4.20" stroke-dasharray="1.4 1.8"/>
<path d="M397.1 253.3 L398.5 253.3 L400.4 253.3 L402.6 253.4 L403.9 253.4 L405.1 253.4 L406.4 253.4 L407.6 253.5 L408.9 253.5 L410.1 253.5 L412.2 253.4 L414.0 253.4 L415.4 253.4 L416.5 253.4 L417.4 253.3 L418.2 253.3 L418.9 253.2 L419.6 253.0 L420.3 252.7 L421.0 252.2 L421.7 251.6 L422.4 250.8 L423.0 250.0 L423.6 249.0 L424.2 247.9 L424.8 246.8 L425.4 245.5 L426.1 244.2 L426.8 242.8 L427.5 241.2 L428.3 239.6 L429.0 237.8 L429.8 236.0 L430.6 234.1 L431.3 232.2 L432.1 230.2 L432.9 228.1 L433.6 225.9 L434.4 223.7 L434.8 222.5 L435.1 221.4 L435.5 220.2 L435.9 219.0 L436.3 217.8 L436.6 216.7 L437.0 215.5 L437.4 214.4 L438.1 212.1 L438.8 209.8 L439.1 208.7 L439.5 207.5 L439.8 206.4 L440.1 205.2 L440.5 204.0 L440.8 202.9 L441.5 200.6 L442.1 198.5 L442.8 196.5 L443.5 194.7 L444.2 193.1 L444.9 191.6 L445.7 190.2 L446.4 189.0 L447.2 187.9 L448.0 186.8 L448.8 185.9 L449.6 185.0 L450.4 184.2 L451.3 183.5 L452.1 182.8 L453.0 182.3 L453.9 181.8 L454.8 181.5 L455.9 181.2 L457.0 181.1 L458.3 181.1 L459.7 181.1 L461.3 181.3 L462.9 181.6 L464.4 182.0 L466.0 182.5 L467.4 183.1 L468.6 183.8 L469.6 184.7 L470.5 185.8 L471.3 187.0 L471.9 188.3 L472.6 189.7 L473.3 191.1 L474.1 192.3 L475.0 193.5 L476.0 194.6 L477.1 195.5 L478.3 196.5 L479.5 197.4 L480.7 198.3 L481.9 199.3 L483.1 200.2 L484.3 201.2 L485.5 202.2 L486.6 203.3 L487.8 204.3 L488.9 205.4 L490.0 206.5 L491.2 207.6 L492.3 208.6 L493.5 209.7 L494.7 210.8 L495.9 211.9 L497.1 213.0 L498.2 214.1 L499.4 215.2 L500.6 216.2 L501.7 217.2 L502.8 218.2 L503.8 219.1 L504.8 219.9 L505.7 220.8 L506.6 221.5 L507.6 222.3 L508.5 223.0 L509.5 223.7 L510.5 224.4 L511.6 225.1 L512.7 225.7 L513.8 226.2 L515.0 226.8 L516.2 227.3 L517.4 227.9 L518.7 228.5 L520.0 229.1 L521.4 229.8 L522.8 230.5 L524.3 231.2 L525.8 231.9 L527.3 232.7 L528.9 233.4 L530.4 234.1 L532.0 234.8 L533.6 235.4 L535.1 236.0 L536.7 236.6 L538.2 237.2 L539.9 237.7 L541.5 238.3 L543.2 238.9 L545.0 239.5 L546.8 240.1 L548.7 240.8 L550.6 241.5 L552.6 242.2 L554.6 242.9 L556.7 243.6 L558.8 244.2 L561.0 244.7 L563.2 245.2 L565.4 245.6 L567.7 246.0 L570.1 246.4 L571.2 246.5 L572.4 246.7 L573.7 246.8 L574.9 247.0 L576.1 247.1 L577.4 247.3 L578.7 247.4 L580.0 247.5 L581.3 247.6 L582.6 247.7 L583.9 247.7 L585.3 247.8 L586.6 247.8 L587.9 247.9 L589.3 247.9 L590.7 247.9 L592.1 248.0 L593.5 248.0 L595.0 248.0 L596.5 248.1 L598.1 248.1 L599.7 248.2 L601.4 248.3 L603.1 248.4 L604.8 248.5 L606.6 248.7 L608.3 248.9 L610.0 249.0 L611.7 249.2 L613.5 249.4 L614.7 249.6 L615.9 249.7 L617.2 249.9 L618.5 250.0 L619.8 250.2 L621.2 250.3 L622.6 250.4 L624.1 250.6 L625.6 250.7 L626.8 250.8 L628.1 250.9 L629.3 251.0 L630.6 251.1 L632.0 251.2 L633.4 251.2 L634.8 251.3 L636.2 251.4 L637.6 251.5 L638.9 251.5 L640.3 251.6 L641.7 251.6 L643.1 251.7 L644.4 251.7 L645.8 251.7 L647.2 251.8 L648.5 251.8 L649.9 251.9 L651.3 251.9 L652.6 251.9 L653.9 252.0 L655.2 252.0 L656.5 252.0 L657.7 252.0 L659.0 252.1 L660.3 252.1 L661.7 252.1 L663.0 252.2 L664.3 252.2 L665.7 252.2 L667.0 252.2 L668.3 252.3 L669.7 252.3 L671.0 252.3 L672.3 252.3 L673.6 252.4 L674.9 252.4 L676.2 252.4 L677.4 252.4 L678.7 252.4 L680.1 252.5 L681.5 252.5 L682.9 252.5 L684.3 252.5 L685.6 252.6 L687.0 252.6 L688.4 252.6 L689.8 252.6 L691.2 252.7 L692.6 252.7 L694.0 252.7 L695.2 252.7 L696.5 252.8 L697.7 252.8 L699.0 252.8" fill="none" stroke="#ff00ff" stroke-width="2.50" stroke-linejoin="round"/><path d="M397.1 253.3 L398.5 253.3 L400.4 253.3 L402.6 253.4 L403.9 253.4 L405.1 253.4 L406.4 253.4 L407.6 253.5 L408.9 253.5 L410.1 253.5 L412.2 253.4 L414.0 253.4 L415.4 253.4 L416.5 253.4 L417.4 253.3 L418.2 253.3 L418.9 253.2 L419.6 253.0 L420.3 252.7 L421.0 252.2 L421.7 251.6 L422.4 250.8 L423.0 250.0 L423.6 249.0 L424.2 247.9 L424.8 246.8 L425.4 245.5 L426.1 244.2 L426.8 242.8 L427.5 241.2 L428.3 239.6 L429.0 237.8 L429.8 236.0 L430.6 234.1 L431.3 232.2 L432.1 230.2 L432.9 228.1 L433.6 225.9 L434.4 223.7 L434.8 222.5 L435.1 221.4 L435.5 220.2 L435.9 219.0 L436.3 217.8 L436.6 216.7 L437.0 215.5 L437.4 214.4 L438.1 212.1 L438.8 209.8 L439.1 208.7 L439.5 207.5 L439.8 206.4 L440.1 205.2 L440.5 204.0 L440.8 202.9 L441.5 200.6 L442.1 198.5 L442.8 196.5 L443.5 194.7 L444.2 193.1 L444.9 191.6 L445.7 190.2 L446.4 189.0 L447.2 187.9 L448.0 186.8 L448.8 185.9 L449.6 185.0 L450.4 184.2 L451.3 183.5 L452.1 182.8 L453.0 182.3 L453.9 181.8 L454.8 181.5 L455.9 181.2 L457.0 181.1 L458.3 181.1 L459.7 181.1 L461.3 181.3 L462.9 181.6 L464.4 182.0 L466.0 182.5 L467.4 183.1 L468.6 183.8 L469.6 184.7 L470.5 185.8 L471.3 187.0 L471.9 188.3 L472.6 189.7 L473.3 191.1 L474.1 192.3 L475.0 193.5 L476.0 194.6 L477.1 195.5 L478.3 196.5 L479.5 197.4 L480.7 198.3 L481.9 199.3 L483.1 200.2 L484.3 201.2 L485.5 202.2 L486.6 203.3 L487.8 204.3 L488.9 205.4 L490.0 206.5 L491.2 207.6 L492.3 208.6 L493.5 209.7 L494.7 210.8 L495.9 211.9 L497.1 213.0 L498.2 214.1 L499.4 215.2 L500.6 216.2 L501.7 217.2 L502.8 218.2 L503.8 219.1 L504.8 219.9 L505.7 220.8 L506.6 221.5 L507.6 222.3 L508.5 223.0 L509.5 223.7 L510.5 224.4 L511.6 225.1 L512.7 225.7 L513.8 226.2 L515.0 226.8 L516.2 227.3 L517.4 227.9 L518.7 228.5 L520.0 229.1 L521.4 229.8 L522.8 230.5 L524.3 231.2 L525.8 231.9 L527.3 232.7 L528.9 233.4 L530.4 234.1 L532.0 234.8 L533.6 235.4 L535.1 236.0 L536.7 236.6 L538.2 237.2 L539.9 237.7 L541.5 238.3 L543.2 238.9 L545.0 239.5 L546.8 240.1 L548.7 240.8 L550.6 241.5 L552.6 242.2 L554.6 242.9 L556.7 243.6 L558.8 244.2 L561.0 244.7 L563.2 245.2 L565.4 245.6 L567.7 246.0 L570.1 246.4 L571.2 246.5 L572.4 246.7 L573.7 246.8 L574.9 247.0 L576.1 247.1 L577.4 247.3 L578.7 247.4 L580.0 247.5 L581.3 247.6 L582.6 247.7 L583.9 247.7 L585.3 247.8 L586.6 247.8 L587.9 247.9 L589.3 247.9 L590.7 247.9 L592.1 248.0 L593.5 248.0 L595.0 248.0 L596.5 248.1 L598.1 248.1 L599.7 248.2 L601.4 248.3 L603.1 248.4 L604.8 248.5 L606.6 248.7 L608.3 248.9 L610.0 249.0 L611.7 249.2 L613.5 249.4 L614.7 249.6 L615.9 249.7 L617.2 249.9 L618.5 250.0 L619.8 250.2 L621.2 250.3 L622.6 250.4 L624.1 250.6 L625.6 250.7 L626.8 250.8 L628.1 250.9 L629.3 251.0 L630.6 251.1 L632.0 251.2 L633.4 251.2 L634.8 251.3 L636.2 251.4 L637.6 251.5 L638.9 251.5 L640.3 251.6 L641.7 251.6 L643.1 251.7 L644.4 251.7 L645.8 251.7 L647.2 251.8 L648.5 251.8 L649.9 251.9 L651.3 251.9 L652.6 251.9 L653.9 252.0 L655.2 252.0 L656.5 252.0 L657.7 252.0 L659.0 252.1 L660.3 252.1 L661.7 252.1 L663.0 252.2 L664.3 252.2 L665.7 252.2 L667.0 252.2 L668.3 252.3 L669.7 252.3 L671.0 252.3 L672.3 252.3 L673.6 252.4 L674.9 252.4 L676.2 252.4 L677.4 252.4 L678.7 252.4 L680.1 252.5 L681.5 252.5 L682.9 252.5 L684.3 252.5 L685.6 252.6 L687.0 252.6 L688.4 252.6 L689.8 252.6 L691.2 252.7 L692.6 252.7 L694.0 252.7 L695.2 252.7 L696.5 252.8 L697.7 252.8 L699.0 252.8" fill="none" stroke="#ff00ff" stroke-width="4.40" stroke-dasharray="1.4 1.8"/>
<path d="M397.1 253.3 L398.3 253.3 L400.0 253.3 L402.0 253.3 L404.2 253.4 L406.4 253.4 L408.6 253.3 L410.5 253.3 L412.0 253.2 L413.2 253.1 L414.1 253.0 L414.9 252.9 L415.6 252.8 L416.1 252.6 L416.7 252.4 L417.3 252.0 L418.0 251.5 L418.8 250.9 L419.5 250.2 L420.3 249.5 L421.1 248.6 L421.9 247.7 L422.7 246.6 L423.4 245.5 L424.1 244.2 L424.8 242.8 L425.4 241.3 L426.1 239.6 L426.7 237.9 L427.3 236.0 L427.9 234.1 L428.5 232.2 L429.1 230.2 L429.7 228.2 L430.3 226.1 L431.0 224.0 L431.6 221.9 L432.2 219.6 L432.5 218.4 L432.8 217.2 L433.2 216.0 L433.5 214.7 L433.8 213.4 L434.1 212.1 L434.4 210.6 L434.7 209.2 L435.1 207.6 L435.4 206.0 L435.7 204.2 L436.0 202.5 L436.3 200.8 L436.7 199.0 L437.0 197.3 L437.3 195.6 L437.6 194.0 L437.9 192.3 L438.3 190.8 L438.6 189.3 L438.9 188.0 L439.2 186.7 L439.8 184.5 L440.4 182.7 L441.0 181.0 L441.6 179.6 L442.2 178.3 L442.8 177.0 L443.4 175.7 L444.1 174.3 L444.8 172.8 L445.6 171.2 L446.3 169.7 L447.1 168.1 L447.9 166.7 L448.7 165.4 L449.5 164.2 L450.3 163.2 L451.1 162.4 L451.8 161.8 L452.6 161.3 L453.4 160.9 L454.1 160.7 L454.9 160.5 L455.7 160.5 L456.5 160.5 L457.3 160.6 L458.2 160.9 L459.0 161.3 L459.9 161.8 L460.8 162.3 L461.6 162.9 L462.4 163.6 L463.2 164.2 L463.9 164.9 L464.6 165.6 L465.3 166.3 L465.9 167.1 L466.6 167.9 L467.2 168.8 L467.9 169.8 L468.6 170.8 L469.3 171.9 L470.1 173.1 L470.8 174.3 L471.6 175.5 L472.3 176.9 L473.2 178.3 L474.1 179.7 L475.0 181.2 L476.0 182.8 L477.1 184.5 L478.3 186.3 L479.5 188.1 L480.7 190.0 L481.9 191.8 L483.1 193.5 L484.3 195.1 L485.5 196.6 L486.6 198.0 L487.8 199.4 L488.9 200.7 L490.0 202.0 L491.2 203.3 L492.3 204.6 L493.5 205.9 L494.7 207.2 L495.9 208.5 L497.1 209.8 L498.2 211.1 L499.4 212.4 L500.6 213.6 L501.7 214.8 L502.8 215.9 L503.8 216.9 L504.7 217.8 L505.6 218.7 L506.5 219.5 L507.3 220.3 L508.3 221.1 L509.3 221.9 L510.5 222.8 L511.8 223.8 L513.3 224.8 L514.9 225.9 L516.6 227.0 L518.2 228.1 L519.8 229.1 L521.4 230.0 L522.8 230.8 L524.1 231.5 L525.2 232.0 L526.3 232.5 L527.4 232.9 L528.4 233.2 L529.5 233.6 L530.7 234.0 L532.0 234.5 L533.4 235.0 L534.9 235.5 L536.5 236.1 L538.1 236.6 L539.7 237.2 L541.4 237.8 L543.2 238.4 L545.0 239.0 L546.8 239.6 L548.7 240.3 L550.6 241.1 L552.6 241.8 L554.6 242.5 L556.7 243.2 L558.8 243.8 L561.0 244.4 L563.2 244.9 L565.4 245.3 L567.7 245.8 L570.1 246.1 L571.2 246.3 L572.4 246.5 L573.7 246.6 L574.9 246.8 L576.1 246.9 L577.4 247.0 L578.7 247.2 L580.0 247.3 L581.3 247.4 L582.6 247.5 L583.9 247.6 L585.3 247.6 L586.6 247.7 L587.9 247.7 L589.3 247.8 L590.7 247.8 L592.1 247.8 L593.5 247.9 L595.0 247.9 L596.5 248.0 L598.1 248.0 L599.7 248.1 L601.4 248.2 L603.1 248.3 L604.8 248.4 L606.6 248.6 L608.3 248.8 L610.0 248.9 L611.7 249.1 L613.5 249.3 L614.7 249.5 L615.9 249.6 L617.2 249.8 L618.5 249.9 L619.8 250.1 L621.2 250.2 L622.6 250.3 L624.1 250.5 L625.6 250.6 L626.8 250.7 L628.1 250.8 L629.3 250.9 L630.6 251.0 L632.0 251.1 L633.4 251.1 L634.8 251.2 L636.2 251.3 L637.6 251.4 L638.9 251.4 L640.3 251.5 L641.7 251.5 L643.1 251.6 L644.4 251.6 L645.8 251.7 L647.2 251.7 L648.5 251.7 L649.9 251.8 L651.3 251.8 L652.6 251.8 L653.9 251.9 L655.2 251.9 L656.5 251.9 L657.7 252.0 L659.0 252.0 L660.3 252.0 L661.7 252.1 L663.0 252.1 L664.3 252.1 L665.7 252.2 L667.0 252.2 L668.3 252.2 L669.7 252.2 L671.0 252.3 L672.3 252.3 L673.6 252.3 L674.9 252.3 L676.2 252.4 L677.4 252.4 L678.7 252.4 L680.1 252.4 L681.5 252.5 L682.9 252.5 L684.3 252.5 L685.6 252.5 L687.0 252.6 L688.4 252.6 L689.8 252.6 L691.2 252.6 L692.6 252.7 L694.0 252.7 L695.2 252.7 L696.5 252.7 L697.7 252.8 L699.0 252.8" fill="none" stroke="#000080" stroke-width="2.10" stroke-linejoin="round"/><path d="M397.1 253.3 L398.3 253.3 L400.0 253.3 L402.0 253.3 L404.2 253.4 L406.4 253.4 L408.6 253.3 L410.5 253.3 L412.0 253.2 L413.2 253.1 L414.1 253.0 L414.9 252.9 L415.6 252.8 L416.1 252.6 L416.7 252.4 L417.3 252.0 L418.0 251.5 L418.8 250.9 L419.5 250.2 L420.3 249.5 L421.1 248.6 L421.9 247.7 L422.7 246.6 L423.4 245.5 L424.1 244.2 L424.8 242.8 L425.4 241.3 L426.1 239.6 L426.7 237.9 L427.3 236.0 L427.9 234.1 L428.5 232.2 L429.1 230.2 L429.7 228.2 L430.3 226.1 L431.0 224.0 L431.6 221.9 L432.2 219.6 L432.5 218.4 L432.8 217.2 L433.2 216.0 L433.5 214.7 L433.8 213.4 L434.1 212.1 L434.4 210.6 L434.7 209.2 L435.1 207.6 L435.4 206.0 L435.7 204.2 L436.0 202.5 L436.3 200.8 L436.7 199.0 L437.0 197.3 L437.3 195.6 L437.6 194.0 L437.9 192.3 L438.3 190.8 L438.6 189.3 L438.9 188.0 L439.2 186.7 L439.8 184.5 L440.4 182.7 L441.0 181.0 L441.6 179.6 L442.2 178.3 L442.8 177.0 L443.4 175.7 L444.1 174.3 L444.8 172.8 L445.6 171.2 L446.3 169.7 L447.1 168.1 L447.9 166.7 L448.7 165.4 L449.5 164.2 L450.3 163.2 L451.1 162.4 L451.8 161.8 L452.6 161.3 L453.4 160.9 L454.1 160.7 L454.9 160.5 L455.7 160.5 L456.5 160.5 L457.3 160.6 L458.2 160.9 L459.0 161.3 L459.9 161.8 L460.8 162.3 L461.6 162.9 L462.4 163.6 L463.2 164.2 L463.9 164.9 L464.6 165.6 L465.3 166.3 L465.9 167.1 L466.6 167.9 L467.2 168.8 L467.9 169.8 L468.6 170.8 L469.3 171.9 L470.1 173.1 L470.8 174.3 L471.6 175.5 L472.3 176.9 L473.2 178.3 L474.1 179.7 L475.0 181.2 L476.0 182.8 L477.1 184.5 L478.3 186.3 L479.5 188.1 L480.7 190.0 L481.9 191.8 L483.1 193.5 L484.3 195.1 L485.5 196.6 L486.6 198.0 L487.8 199.4 L488.9 200.7 L490.0 202.0 L491.2 203.3 L492.3 204.6 L493.5 205.9 L494.7 207.2 L495.9 208.5 L497.1 209.8 L498.2 211.1 L499.4 212.4 L500.6 213.6 L501.7 214.8 L502.8 215.9 L503.8 216.9 L504.7 217.8 L505.6 218.7 L506.5 219.5 L507.3 220.3 L508.3 221.1 L509.3 221.9 L510.5 222.8 L511.8 223.8 L513.3 224.8 L514.9 225.9 L516.6 227.0 L518.2 228.1 L519.8 229.1 L521.4 230.0 L522.8 230.8 L524.1 231.5 L525.2 232.0 L526.3 232.5 L527.4 232.9 L528.4 233.2 L529.5 233.6 L530.7 234.0 L532.0 234.5 L533.4 235.0 L534.9 235.5 L536.5 236.1 L538.1 236.6 L539.7 237.2 L541.4 237.8 L543.2 238.4 L545.0 239.0 L546.8 239.6 L548.7 240.3 L550.6 241.1 L552.6 241.8 L554.6 242.5 L556.7 243.2 L558.8 243.8 L561.0 244.4 L563.2 244.9 L565.4 245.3 L567.7 245.8 L570.1 246.1 L571.2 246.3 L572.4 246.5 L573.7 246.6 L574.9 246.8 L576.1 246.9 L577.4 247.0 L578.7 247.2 L580.0 247.3 L581.3 247.4 L582.6 247.5 L583.9 247.6 L585.3 247.6 L586.6 247.7 L587.9 247.7 L589.3 247.8 L590.7 247.8 L592.1 247.8 L593.5 247.9 L595.0 247.9 L596.5 248.0 L598.1 248.0 L599.7 248.1 L601.4 248.2 L603.1 248.3 L604.8 248.4 L606.6 248.6 L608.3 248.8 L610.0 248.9 L611.7 249.1 L613.5 249.3 L614.7 249.5 L615.9 249.6 L617.2 249.8 L618.5 249.9 L619.8 250.1 L621.2 250.2 L622.6 250.3 L624.1 250.5 L625.6 250.6 L626.8 250.7 L628.1 250.8 L629.3 250.9 L630.6 251.0 L632.0 251.1 L633.4 251.1 L634.8 251.2 L636.2 251.3 L637.6 251.4 L638.9 251.4 L640.3 251.5 L641.7 251.5 L643.1 251.6 L644.4 251.6 L645.8 251.7 L647.2 251.7 L648.5 251.7 L649.9 251.8 L651.3 251.8 L652.6 251.8 L653.9 251.9 L655.2 251.9 L656.5 251.9 L657.7 252.0 L659.0 252.0 L660.3 252.0 L661.7 252.1 L663.0 252.1 L664.3 252.1 L665.7 252.2 L667.0 252.2 L668.3 252.2 L669.7 252.2 L671.0 252.3 L672.3 252.3 L673.6 252.3 L674.9 252.3 L676.2 252.4 L677.4 252.4 L678.7 252.4 L680.1 252.4 L681.5 252.5 L682.9 252.5 L684.3 252.5 L685.6 252.5 L687.0 252.6 L688.4 252.6 L689.8 252.6 L691.2 252.6 L692.6 252.7 L694.0 252.7 L695.2 252.7 L696.5 252.7 L697.7 252.8 L699.0 252.8" fill="none" stroke="#000080" stroke-width="3.60" stroke-dasharray="1 2.4"/>
<path d="M397.1 253.3 L398.1 253.3 L399.6 253.4 L401.3 253.4 L403.1 253.4 L405.0 253.5 L406.9 253.4 L408.6 253.4 L410.0 253.2 L411.2 253.0 L412.2 252.7 L413.1 252.5 L414.0 252.1 L414.8 251.7 L415.5 251.3 L416.3 250.8 L417.0 250.2 L417.7 249.6 L418.4 248.9 L419.1 248.1 L419.7 247.3 L420.3 246.4 L420.9 245.5 L421.4 244.4 L422.0 243.2 L422.6 241.9 L423.1 240.5 L423.6 239.0 L424.1 237.4 L424.6 235.7 L425.1 233.9 L425.6 232.1 L426.1 230.2 L426.6 228.2 L427.1 226.2 L427.6 224.1 L428.1 221.9 L428.6 219.6 L428.8 218.5 L429.1 217.3 L429.3 216.0 L429.6 214.7 L429.8 213.4 L430.1 212.1 L430.4 210.7 L430.6 209.2 L430.9 207.6 L431.1 206.0 L431.4 204.3 L431.6 202.6 L431.9 200.9 L432.2 199.2 L432.4 197.5 L432.7 195.8 L432.9 194.1 L433.2 192.5 L433.5 190.9 L433.7 189.4 L434.0 188.1 L434.2 186.7 L434.4 185.5 L434.7 184.3 L435.1 182.3 L435.5 180.4 L435.9 178.6 L436.3 177.0 L436.8 175.4 L437.3 173.7 L437.9 171.9 L438.6 170.0 L439.3 168.1 L440.1 166.1 L440.9 164.1 L441.7 162.2 L442.5 160.3 L443.3 158.6 L444.1 157.0 L444.8 155.5 L445.5 154.1 L446.2 152.8 L446.9 151.5 L447.6 150.4 L448.3 149.3 L448.9 148.3 L449.6 147.5 L450.2 146.8 L450.9 146.1 L451.5 145.6 L452.1 145.1 L452.7 144.8 L453.3 144.5 L453.9 144.4 L454.6 144.4 L455.3 144.5 L456.0 144.6 L456.7 144.9 L457.5 145.3 L458.2 145.7 L459.0 146.4 L459.8 147.2 L460.7 148.1 L461.6 149.3 L462.6 150.7 L463.6 152.2 L464.6 153.9 L465.6 155.7 L466.6 157.5 L467.6 159.3 L468.6 161.0 L469.5 162.7 L470.4 164.4 L471.3 166.1 L472.2 167.8 L473.0 169.6 L473.9 171.4 L474.8 173.2 L475.8 175.0 L476.8 176.9 L477.8 178.8 L478.9 180.7 L479.9 182.7 L481.0 184.7 L482.1 186.6 L483.2 188.5 L484.3 190.4 L485.4 192.2 L486.5 194.1 L487.7 195.9 L488.9 197.6 L490.0 199.4 L491.2 201.1 L492.3 202.7 L493.5 204.3 L494.7 205.8 L495.8 207.3 L497.0 208.6 L498.2 210.0 L499.3 211.3 L500.5 212.6 L501.6 213.8 L502.8 215.1 L503.9 216.4 L505.1 217.6 L506.2 218.8 L507.3 220.0 L508.4 221.2 L509.6 222.3 L510.8 223.4 L512.0 224.4 L513.3 225.3 L514.6 226.2 L516.0 227.1 L517.4 227.8 L518.8 228.6 L520.2 229.3 L521.5 230.0 L522.8 230.6 L524.0 231.2 L525.1 231.7 L526.2 232.1 L527.3 232.5 L528.3 233.0 L529.5 233.4 L530.7 233.8 L532.0 234.3 L533.4 234.8 L534.9 235.4 L536.5 235.9 L538.1 236.5 L539.7 237.1 L541.4 237.7 L543.2 238.3 L545.0 238.9 L546.8 239.6 L548.7 240.3 L550.6 241.0 L552.6 241.7 L554.6 242.4 L556.7 243.1 L558.8 243.7 L561.0 244.3 L563.2 244.8 L565.4 245.2 L567.7 245.6 L570.1 246.0 L571.2 246.2 L572.4 246.4 L573.7 246.5 L574.9 246.7 L576.1 246.8 L577.4 246.9 L578.7 247.1 L580.0 247.2 L581.4 247.3 L582.7 247.4 L584.2 247.5 L585.6 247.6 L587.1 247.6 L588.6 247.7 L590.2 247.8 L591.7 247.8 L593.2 247.8 L594.7 247.9 L596.2 247.9 L597.7 248.0 L599.1 248.1 L600.5 248.1 L601.8 248.2 L603.1 248.3 L605.5 248.5 L607.7 248.8 L609.8 249.1 L611.8 249.4 L613.8 249.7 L615.7 249.9 L617.7 250.2 L619.7 250.4 L621.7 250.6 L623.4 250.7 L625.2 250.8 L626.9 250.9 L628.8 251.0 L630.9 251.1 L632.1 251.1 L633.3 251.2 L634.8 251.2 L636.2 251.3 L637.9 251.4 L639.6 251.4 L640.8 251.5 L642.1 251.5 L643.4 251.6 L644.8 251.6 L646.2 251.6 L647.5 251.7 L649.0 251.7 L650.5 251.8 L651.9 251.8 L653.4 251.9 L654.9 251.9 L656.4 252.0 L657.9 252.0 L659.4 252.0 L660.9 252.1 L662.3 252.1 L663.8 252.2 L665.2 252.2 L666.6 252.2 L667.9 252.3 L669.3 252.3 L670.7 252.3 L672.0 252.4 L673.4 252.4 L674.8 252.4 L676.2 252.4 L677.7 252.5 L679.1 252.5 L680.5 252.5 L682.0 252.5 L683.4 252.6 L684.8 252.6 L686.2 252.6 L687.5 252.6 L688.9 252.7 L690.2 252.7 L692.0 252.7 L693.7 252.7 L695.2 252.7 L696.7 252.8 L699.0 252.8" fill="none" stroke="#008000" stroke-width="2.10" stroke-linejoin="round"/>
<path d="M397.1 253.3 L397.7 253.3 L398.6 253.3 L399.6 253.3 L400.7 253.3 L401.8 253.3 L403.0 253.3 L404.0 253.3 L405.0 253.2 L405.9 253.1 L406.7 253.1 L407.5 253.0 L408.2 252.9 L409.0 252.8 L409.7 252.6 L410.4 252.4 L411.0 252.2 L411.6 252.0 L412.1 251.7 L412.6 251.5 L413.1 251.2 L413.6 250.9 L414.0 250.4 L414.5 249.9 L415.0 249.2 L415.5 248.4 L416.0 247.5 L416.5 246.5 L417.1 245.4 L417.6 244.2 L418.1 242.9 L418.5 241.6 L419.0 240.2 L419.4 238.7 L419.8 237.2 L420.2 235.6 L420.5 233.9 L420.9 232.1 L421.3 230.2 L421.6 228.2 L422.0 226.1 L422.4 223.8 L422.6 222.6 L422.8 221.3 L423.0 220.0 L423.2 218.7 L423.5 217.3 L423.7 216.0 L423.9 214.6 L424.1 213.2 L424.3 211.8 L424.5 210.4 L424.7 209.0 L424.9 207.7 L425.1 206.3 L425.3 205.0 L425.5 203.7 L425.7 202.4 L425.8 201.1 L426.0 199.8 L426.2 198.5 L426.3 197.2 L426.5 196.0 L426.6 194.7 L426.8 193.4 L427.0 192.1 L427.1 190.8 L427.3 189.5 L427.5 188.2 L427.6 186.9 L427.8 185.5 L428.0 184.2 L428.2 182.8 L428.4 181.5 L428.6 180.1 L428.8 178.7 L429.0 177.4 L429.2 176.0 L429.4 174.6 L429.6 173.2 L429.9 171.8 L430.1 170.4 L430.3 169.0 L430.5 167.6 L430.7 166.2 L430.9 164.8 L431.1 163.4 L431.3 162.0 L431.5 160.6 L431.7 159.2 L431.9 157.8 L432.1 156.4 L432.2 155.0 L432.4 153.6 L432.6 152.2 L432.8 150.8 L433.0 149.3 L433.2 147.9 L433.3 146.6 L433.5 145.2 L433.7 143.8 L433.9 142.5 L434.0 141.1 L434.2 139.8 L434.4 138.5 L434.5 137.2 L434.7 136.0 L434.9 134.7 L435.0 133.5 L435.2 132.3 L435.4 131.1 L435.5 129.9 L435.7 128.7 L435.8 127.5 L436.0 126.3 L436.1 125.0 L436.3 123.8 L436.4 122.6 L436.6 121.3 L436.7 120.0 L436.8 118.7 L437.0 117.3 L437.1 115.9 L437.2 114.6 L437.3 113.1 L437.4 111.7 L437.5 110.3 L437.6 108.9 L437.7 107.5 L437.8 106.1 L437.9 104.7 L438.0 103.3 L438.1 101.9 L438.2 100.6 L438.4 99.3 L438.5 98.0 L438.6 96.8 L438.8 95.5 L439.1 93.2 L439.4 90.9 L439.7 88.6 L440.0 86.4 L440.4 84.3 L440.7 82.1 L441.0 80.0 L441.3 77.9 L441.6 75.7 L442.0 73.6 L442.3 71.5 L442.6 69.4 L443.0 67.5 L443.3 65.7 L443.6 64.0 L443.9 62.5 L444.2 61.1 L444.5 59.9 L444.8 58.7 L445.1 57.6 L445.4 56.6 L445.7 55.5 L446.0 54.5 L446.3 53.4 L446.7 52.4 L447.0 51.4 L447.4 50.4 L447.7 49.5 L448.0 48.6 L448.4 47.8 L448.7 47.0 L449.0 46.3 L449.3 45.6 L449.6 45.0 L449.8 44.4 L450.1 43.9 L450.4 43.4 L450.7 42.9 L451.0 42.5 L451.3 42.1 L451.7 41.7 L452.1 41.3 L452.5 41.0 L452.9 40.7 L453.3 40.5 L453.7 40.4 L454.1 40.3 L454.5 40.3 L454.9 40.4 L455.4 40.6 L455.8 40.9 L456.2 41.2 L456.7 41.5 L457.1 41.9 L457.5 42.3 L457.9 42.7 L458.2 43.0 L458.6 43.3 L458.9 43.7 L459.3 44.2 L459.7 44.9 L460.1 45.8 L460.6 47.0 L461.1 48.5 L461.7 50.3 L462.4 52.3 L463.0 54.5 L463.4 55.7 L463.7 56.8 L464.0 58.0 L464.4 59.2 L464.7 60.4 L465.1 61.6 L465.4 62.8 L465.7 64.0 L466.0 65.2 L466.3 66.4 L466.6 67.6 L467.0 68.8 L467.3 70.1 L467.6 71.4 L467.9 72.7 L468.2 73.9 L468.5 75.2 L468.8 76.5 L469.1 77.8 L469.4 79.1 L469.8 80.4 L470.1 81.7 L470.4 83.0 L470.7 84.3 L471.0 85.6 L471.3 86.9 L471.7 88.2 L472.0 89.5 L472.3 90.8 L472.7 92.1 L473.0 93.4 L473.3 94.7 L473.7 96.0 L474.0 97.3 L474.3 98.5 L474.6 99.8 L474.9 101.1 L475.2 102.3 L475.5 103.5 L475.8 104.7 L476.3 107.0 L476.8 109.3 L477.3 111.5 L477.7 113.7 L478.2 115.9 L478.6 117.9 L479.0 120.0 L479.5 122.0 L480.0 124.0 L480.4 125.9 L480.9 127.7 L481.4 129.5 L481.8 131.3 L482.3 133.0 L482.8 134.8 L483.3 136.5 L483.8 138.2 L484.3 139.8 L484.8 141.4 L485.3 143.0 L485.8 144.6 L486.4 146.2 L486.9 147.9 L487.5 149.6 L488.1 151.4 L488.7 153.2 L489.4 155.1 L490.0 157.0 L490.7 158.9 L491.3 160.8 L491.9 162.6 L492.5 164.4 L493.0 166.1 L493.5 167.7 L494.0 169.3 L494.5 170.8 L495.0 172.4 L495.4 173.9 L496.0 175.4 L496.5 177.0 L497.1 178.5 L497.6 180.1 L498.2 181.6 L498.8 183.1 L499.4 184.6 L500.1 186.2 L500.8 187.8 L501.6 189.5 L502.5 191.3 L503.4 193.2 L504.4 195.2 L505.4 197.3 L506.5 199.3 L507.6 201.3 L508.7 203.2 L509.8 205.0 L510.9 206.7 L512.0 208.3 L513.1 209.9 L514.2 211.4 L515.3 212.9 L516.5 214.3 L517.8 215.7 L519.1 217.0 L520.5 218.3 L522.0 219.5 L523.5 220.6 L525.0 221.8 L526.6 222.8 L528.2 223.9 L529.9 224.9 L531.5 226.0 L533.1 227.0 L534.7 228.1 L536.4 229.0 L538.0 230.0 L539.7 231.0 L541.4 232.0 L543.2 233.0 L545.0 234.0 L546.9 235.1 L549.0 236.2 L550.1 236.8 L551.1 237.4 L552.2 238.0 L553.3 238.6 L554.4 239.2 L555.4 239.8 L557.5 240.9 L559.3 241.8 L561.0 242.6 L562.4 243.2 L563.7 243.7 L564.8 244.0 L565.8 244.3 L566.7 244.5 L567.6 244.7 L568.6 245.0 L569.7 245.2 L570.8 245.5 L571.8 245.7 L572.8 245.9 L573.8 246.2 L575.0 246.4 L576.2 246.6 L577.6 246.8 L579.3 247.0 L581.2 247.2 L583.4 247.4 L585.8 247.6 L587.1 247.7 L588.3 247.8 L589.6 247.9 L590.9 248.0 L592.2 248.1 L593.5 248.2 L594.8 248.3 L596.1 248.4 L597.4 248.5 L598.6 248.6 L599.8 248.7 L601.0 248.8 L602.2 248.9 L603.4 249.0 L604.6 249.1 L605.8 249.2 L607.0 249.3 L608.2 249.4 L609.5 249.5 L610.7 249.6 L611.9 249.7 L613.1 249.8 L614.3 249.9 L615.5 250.0 L616.7 250.1 L617.9 250.2 L619.1 250.3 L620.3 250.4 L621.5 250.5 L622.7 250.6 L623.9 250.7 L625.1 250.7 L626.3 250.8 L627.5 250.9 L628.8 251.0 L630.0 251.1 L631.2 251.2 L632.4 251.2 L633.6 251.3 L634.8 251.4 L636.0 251.4 L637.2 251.5 L638.4 251.6 L639.6 251.6 L640.8 251.7 L642.0 251.7 L643.2 251.7 L644.4 251.8 L645.6 251.8 L646.9 251.8 L648.1 251.9 L649.3 251.9 L650.5 251.9 L651.7 252.0 L652.9 252.0 L654.1 252.0 L655.3 252.1 L656.5 252.1 L658.9 252.2 L661.2 252.2 L663.6 252.3 L665.9 252.4 L668.3 252.4 L669.5 252.5 L670.7 252.5 L672.0 252.5 L673.2 252.6 L674.5 252.6 L675.8 252.6 L677.2 252.6 L678.7 252.6 L680.3 252.7 L681.9 252.7 L683.6 252.7 L685.2 252.7 L686.9 252.7 L688.6 252.7 L690.2 252.7 L691.8 252.8 L693.3 252.8 L694.7 252.8 L696.0 252.8 L697.2 252.8 L699.0 252.8" fill="none" stroke="#ff8000" stroke-width="2.30" stroke-linejoin="round"/>
<path d="M637 37.6H675" stroke="#000000" stroke-width="2.1"/>
<rect x="654.0" y="35.6" width="4" height="4" fill="#000000"/>
<text x="678.5" y="43.2" font-size="17" font-family="Liberation Serif, serif">300K</text>
<path d="M637 58.3H675" stroke="#00ff00" stroke-width="2.1"/>
<path d="M656.0 55.3L658.5 59.8L653.5 59.8Z" fill="#00ff00"/>
<text x="678.5" y="63.9" font-size="17" font-family="Liberation Serif, serif">280K</text>
<path d="M637 79.0H675" stroke="#ff00ff" stroke-width="2.1"/>
<path d="M653.0 79.0L657.5 76.5L657.5 81.5Z" fill="#ff00ff"/>
<text x="678.5" y="84.6" font-size="17" font-family="Liberation Serif, serif">220K</text>
<path d="M637 99.7H675" stroke="#000080" stroke-width="2.1"/>
<path d="M656.0 97.2V102.2M654.0 98.2L658.0 101.2M658.0 98.2L654.0 101.2" stroke="#000080" stroke-width="1"/>
<text x="678.5" y="105.3" font-size="17" font-family="Liberation Serif, serif">160K</text>
<path d="M637 120.4H675" stroke="#008000" stroke-width="2.1"/>
<path d="M656.0 118.4V122.4" stroke="#008000" stroke-width="1"/>
<text x="678.5" y="126.0" font-size="17" font-family="Liberation Serif, serif">100K</text>
<path d="M637 141.1H675" stroke="#ff8000" stroke-width="2.1"/>

<text x="678.5" y="146.7" font-size="17" font-family="Liberation Serif, serif">40K</text>
</svg></body></html>
